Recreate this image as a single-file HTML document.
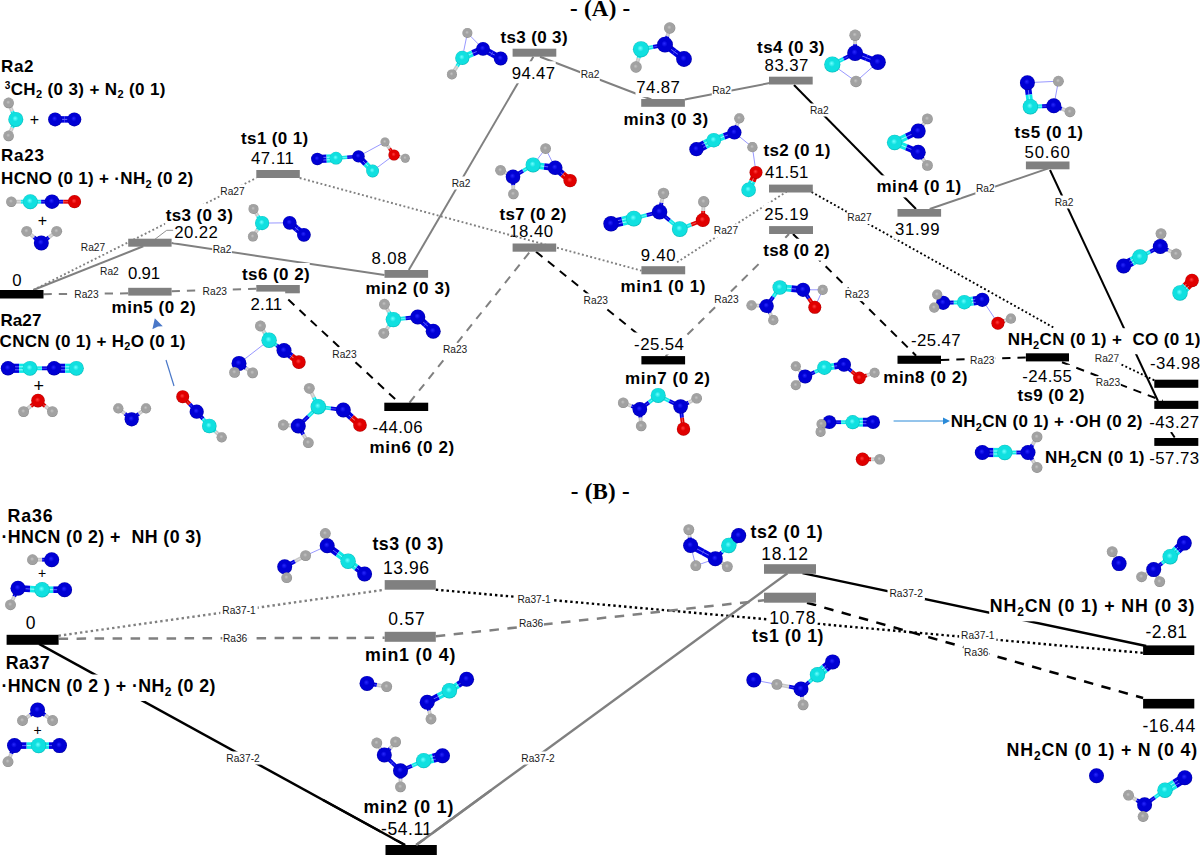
<!DOCTYPE html><html><head><meta charset="utf-8"><style>
html,body{margin:0;padding:0;background:#fff;}
svg{display:block;}
text{font-family:"Liberation Sans",sans-serif;}
.lb{font-size:10.2px;fill:#1a1a1a;}
</style></head><body>
<svg width="1200" height="855" viewBox="0 0 1200 855">
<defs>
<radialGradient id="gH" cx="50%" cy="50%" r="55%" fx="45%" fy="42%"><stop offset="0" stop-color="#c4c4c4"/><stop offset="0.35" stop-color="#a2a2a2"/><stop offset="0.78" stop-color="#a2a2a2"/><stop offset="1" stop-color="#707070"/></radialGradient>
<radialGradient id="gC" cx="50%" cy="50%" r="55%" fx="45%" fy="42%"><stop offset="0" stop-color="#70ffff"/><stop offset="0.35" stop-color="#10e0e0"/><stop offset="0.78" stop-color="#10e0e0"/><stop offset="1" stop-color="#00a0a0"/></radialGradient>
<radialGradient id="gN" cx="50%" cy="50%" r="55%" fx="45%" fy="42%"><stop offset="0" stop-color="#2828ff"/><stop offset="0.35" stop-color="#0000d4"/><stop offset="0.78" stop-color="#0000d4"/><stop offset="1" stop-color="#000088"/></radialGradient>
<radialGradient id="gO" cx="50%" cy="50%" r="55%" fx="45%" fy="42%"><stop offset="0" stop-color="#ff4040"/><stop offset="0.35" stop-color="#e00000"/><stop offset="0.78" stop-color="#e00000"/><stop offset="1" stop-color="#900000"/></radialGradient>
</defs>
<rect width="1200" height="855" fill="#fff"/>
<line x1="33.3" y1="290" x2="143.3" y2="246.3" stroke="#808080" stroke-width="2.0"/>
<line x1="171.5" y1="243" x2="384.5" y2="275" stroke="#808080" stroke-width="2.0"/>
<line x1="408.8" y1="270" x2="533.3" y2="56.7" stroke="#808080" stroke-width="2.0"/>
<line x1="540" y1="56.7" x2="651.3" y2="99.5" stroke="#808080" stroke-width="2.0"/>
<line x1="684.8" y1="99.5" x2="776.1" y2="81.8" stroke="#808080" stroke-width="2.0"/>
<line x1="929.7" y1="209" x2="1048.4" y2="168.4" stroke="#808080" stroke-width="2.0"/>
<line x1="794" y1="85" x2="916" y2="209" stroke="#000000" stroke-width="2.0"/>
<line x1="1050" y1="170" x2="1158" y2="401" stroke="#000000" stroke-width="2.0"/>
<line x1="33.3" y1="290" x2="256.3" y2="178" stroke="#808080" stroke-width="1.9" stroke-dasharray="1.9 2.4"/>
<line x1="677" y1="262.3" x2="786.7" y2="191.6" stroke="#808080" stroke-width="1.9" stroke-dasharray="1.9 2.4"/>
<line x1="811.5" y1="192" x2="1053.8" y2="327.7" stroke="#000000" stroke-width="1.9" stroke-dasharray="1.9 2.4"/>
<line x1="1090.5" y1="349.7" x2="1154.3" y2="380.3" stroke="#000000" stroke-width="1.9" stroke-dasharray="1.9 2.4"/>
<line x1="43.5" y1="294.2" x2="128.2" y2="293.3" stroke="#808080" stroke-width="2.0" stroke-dasharray="8.3 7"/>
<line x1="171.6" y1="291.3" x2="256.3" y2="288.8" stroke="#808080" stroke-width="2.0" stroke-dasharray="8.3 7"/>
<line x1="409.5" y1="402.7" x2="530" y2="251.7" stroke="#808080" stroke-width="2.0" stroke-dasharray="8.3 7"/>
<line x1="665.7" y1="356.1" x2="789" y2="234" stroke="#808080" stroke-width="2.0" stroke-dasharray="8.3 7"/>
<line x1="288.3" y1="299.6" x2="399" y2="402.7" stroke="#000000" stroke-width="2.0" stroke-dasharray="8.3 7"/>
<line x1="536" y1="251.7" x2="665" y2="356.1" stroke="#000000" stroke-width="2.0" stroke-dasharray="8.3 7"/>
<line x1="793" y1="234" x2="916.1" y2="355.7" stroke="#000000" stroke-width="2.0" stroke-dasharray="8.3 7"/>
<line x1="941" y1="359.9" x2="1025.9" y2="357.5" stroke="#000000" stroke-width="2.0" stroke-dasharray="8.3 7"/>
<line x1="1062" y1="362.3" x2="1162.7" y2="400.8" stroke="#000000" stroke-width="2.0" stroke-dasharray="8.3 7"/>
<line x1="58.6" y1="635.7" x2="384.7" y2="589.7" stroke="#808080" stroke-width="2.4" stroke-dasharray="2.4 3"/>
<line x1="58.6" y1="638.7" x2="384.7" y2="637.8" stroke="#808080" stroke-width="2.5" stroke-dasharray="9.5 8.5"/>
<line x1="435.8" y1="589.7" x2="1143.1" y2="652.9" stroke="#000000" stroke-width="2.4" stroke-dasharray="2.4 3"/>
<line x1="435.8" y1="636.3" x2="764" y2="600.3" stroke="#808080" stroke-width="2.5" stroke-dasharray="9.5 8.5"/>
<line x1="807" y1="602.7" x2="1143.1" y2="698" stroke="#000000" stroke-width="2.5" stroke-dasharray="9.5 8.5"/>
<line x1="39" y1="643.9" x2="405" y2="845" stroke="#000000" stroke-width="2.4"/>
<line x1="416.2" y1="845" x2="787.5" y2="573.2" stroke="#808080" stroke-width="2.4"/>
<line x1="802.5" y1="573.2" x2="1146.2" y2="646" stroke="#000000" stroke-width="2.4"/>
<line x1="1171" y1="432" x2="1174.7" y2="437.5" stroke="#000000" stroke-width="2.0"/>
<polyline points="150,243 166.7,230.3 173.3,230.3" fill="none" stroke="#909090" stroke-width="1"/>
<line x1="174" y1="386" x2="166" y2="360" stroke="#4a78c8" stroke-width="1.2"/>
<polygon points="154.8,318.2 162.8,326.2 158,326.6 152.4,329.2" fill="#4a78c8"/>
<line x1="893.6" y1="421" x2="944" y2="421" stroke="#2a8ad8" stroke-width="1"/>
<polygon points="950,421 943,417.5 943,424.5" fill="#2a8ad8"/>
<rect x="80.2" y="241" width="25.6" height="13" fill="#fff"/>
<text class="lb" x="93" y="251.2" text-anchor="middle">Ra27</text>
<rect x="99.6" y="264.8" width="19.7" height="13" fill="#fff"/>
<text class="lb" x="109.4" y="275" text-anchor="middle">Ra2</text>
<rect x="73.7" y="287.7" width="25.6" height="13" fill="#fff"/>
<text class="lb" x="86.5" y="297.9" text-anchor="middle">Ra23</text>
<rect x="219.7" y="184.3" width="25.6" height="13" fill="#fff"/>
<text class="lb" x="232.5" y="194.5" text-anchor="middle">Ra27</text>
<rect x="202" y="284.8" width="25.6" height="13" fill="#fff"/>
<text class="lb" x="214.8" y="295" text-anchor="middle">Ra23</text>
<rect x="212.2" y="243" width="19.7" height="13" fill="#fff"/>
<text class="lb" x="222" y="253.2" text-anchor="middle">Ra2</text>
<rect x="331.7" y="347.3" width="25.6" height="13" fill="#fff"/>
<text class="lb" x="344.5" y="357.5" text-anchor="middle">Ra23</text>
<rect x="451.1" y="176.5" width="19.7" height="13" fill="#fff"/>
<text class="lb" x="461" y="186.7" text-anchor="middle">Ra2</text>
<rect x="442.3" y="343.2" width="25.6" height="13" fill="#fff"/>
<text class="lb" x="455.1" y="353.4" text-anchor="middle">Ra23</text>
<rect x="580.1" y="68.2" width="19.7" height="13" fill="#fff"/>
<text class="lb" x="590" y="78.4" text-anchor="middle">Ra2</text>
<rect x="583" y="293.4" width="25.6" height="13" fill="#fff"/>
<text class="lb" x="595.8" y="303.6" text-anchor="middle">Ra23</text>
<rect x="711.8" y="84.1" width="19.7" height="13" fill="#fff"/>
<text class="lb" x="721.6" y="94.3" text-anchor="middle">Ra2</text>
<rect x="713.2" y="224.2" width="25.6" height="13" fill="#fff"/>
<text class="lb" x="726" y="234.4" text-anchor="middle">Ra27</text>
<rect x="713.7" y="292.5" width="25.6" height="13" fill="#fff"/>
<text class="lb" x="726.5" y="302.7" text-anchor="middle">Ra23</text>
<rect x="809.4" y="103.5" width="19.7" height="13" fill="#fff"/>
<text class="lb" x="819.3" y="113.7" text-anchor="middle">Ra2</text>
<rect x="846.7" y="211" width="25.6" height="13" fill="#fff"/>
<text class="lb" x="859.5" y="221.2" text-anchor="middle">Ra27</text>
<rect x="844.2" y="288.1" width="25.6" height="13" fill="#fff"/>
<text class="lb" x="857" y="298.3" text-anchor="middle">Ra23</text>
<rect x="975.4" y="181.5" width="19.7" height="13" fill="#fff"/>
<text class="lb" x="985.3" y="191.7" text-anchor="middle">Ra2</text>
<rect x="1054.2" y="195.5" width="19.7" height="13" fill="#fff"/>
<text class="lb" x="1064" y="205.7" text-anchor="middle">Ra2</text>
<rect x="969.5" y="353.4" width="25.6" height="13" fill="#fff"/>
<text class="lb" x="982.3" y="363.6" text-anchor="middle">Ra23</text>
<rect x="1094.2" y="352.2" width="25.6" height="13" fill="#fff"/>
<text class="lb" x="1107" y="362.4" text-anchor="middle">Ra27</text>
<rect x="1095.2" y="376.2" width="25.6" height="13" fill="#fff"/>
<text class="lb" x="1108" y="386.4" text-anchor="middle">Ra23</text>
<rect x="220.3" y="603.4" width="37.4" height="13" fill="#fff"/>
<text class="lb" x="239" y="613.6" text-anchor="middle">Ra37-1</text>
<rect x="222.3" y="632.2" width="25.6" height="13" fill="#fff"/>
<text class="lb" x="235.1" y="642.4" text-anchor="middle">Ra36</text>
<rect x="515.4" y="592.3" width="37.4" height="13" fill="#fff"/>
<text class="lb" x="534.1" y="602.5" text-anchor="middle">Ra37-1</text>
<rect x="518.3" y="617.2" width="25.6" height="13" fill="#fff"/>
<text class="lb" x="531.1" y="627.4" text-anchor="middle">Ra36</text>
<rect x="224.3" y="751.5" width="37.4" height="13" fill="#fff"/>
<text class="lb" x="243" y="761.7" text-anchor="middle">Ra37-2</text>
<rect x="519.3" y="751.5" width="37.4" height="13" fill="#fff"/>
<text class="lb" x="538" y="761.7" text-anchor="middle">Ra37-2</text>
<rect x="887.5" y="587.1" width="37.4" height="13" fill="#fff"/>
<text class="lb" x="906.2" y="597.3" text-anchor="middle">Ra37-2</text>
<rect x="959.1" y="629.2" width="37.4" height="13" fill="#fff"/>
<text class="lb" x="977.8" y="639.4" text-anchor="middle">Ra37-1</text>
<rect x="963.5" y="645.5" width="25.6" height="13" fill="#fff"/>
<text class="lb" x="976.3" y="655.7" text-anchor="middle">Ra36</text>
<rect x="0.5" y="54.5" width="33" height="22" fill="#fff"/>
<rect x="4.2" y="77.7" width="161.3" height="26" fill="#fff"/>
<rect x="0.5" y="143.8" width="43.4" height="22" fill="#fff"/>
<rect x="0.5" y="167" width="192.7" height="26" fill="#fff"/>
<rect x="240.5" y="127.2" width="67.7" height="22" fill="#fff"/>
<rect x="165.2" y="203.8" width="67.6" height="22" fill="#fff"/>
<rect x="499.8" y="26.2" width="67.8" height="22" fill="#fff"/>
<rect x="112.2" y="296.2" width="83.5" height="22" fill="#fff"/>
<rect x="-0.2" y="309.1" width="41.6" height="22" fill="#fff"/>
<rect x="-1" y="329.6" width="186.5" height="26" fill="#fff"/>
<rect x="241.4" y="263" width="68.3" height="22" fill="#fff"/>
<rect x="366.1" y="276.9" width="84.1" height="22" fill="#fff"/>
<rect x="370.2" y="435.7" width="84" height="22" fill="#fff"/>
<rect x="498.9" y="202.6" width="67.4" height="22" fill="#fff"/>
<rect x="624.1" y="107.8" width="84" height="22" fill="#fff"/>
<rect x="621.3" y="275.4" width="84.2" height="22" fill="#fff"/>
<rect x="625.8" y="367" width="84.2" height="22" fill="#fff"/>
<rect x="756.5" y="35.7" width="68" height="22" fill="#fff"/>
<rect x="763" y="138.6" width="67.3" height="22" fill="#fff"/>
<rect x="762.6" y="238.7" width="67.1" height="22" fill="#fff"/>
<rect x="877.1" y="175.4" width="84.1" height="22" fill="#fff"/>
<rect x="884" y="366.3" width="83.3" height="22" fill="#fff"/>
<rect x="1013.9" y="120.7" width="69.1" height="22" fill="#fff"/>
<rect x="1016.9" y="384.4" width="67.6" height="22" fill="#fff"/>
<rect x="1007.2" y="328.2" width="193.1" height="26" fill="#fff"/>
<rect x="950.1" y="410" width="192.4" height="26" fill="#fff"/>
<rect x="1044.5" y="446" width="100" height="26" fill="#fff"/>
<rect x="11.5" y="268.8" width="11.3" height="22" fill="#fff"/>
<rect x="127.2" y="261.7" width="33.5" height="22" fill="#fff"/>
<rect x="173.5" y="220.5" width="45" height="22" fill="#fff"/>
<rect x="250.2" y="146.3" width="44.3" height="22" fill="#fff"/>
<rect x="249.8" y="292.5" width="33" height="22" fill="#fff"/>
<rect x="370.8" y="246.5" width="36.4" height="22" fill="#fff"/>
<rect x="371.8" y="415.3" width="51.4" height="22" fill="#fff"/>
<rect x="511" y="61.3" width="44.7" height="22" fill="#fff"/>
<rect x="508.5" y="219.7" width="45.2" height="22" fill="#fff"/>
<rect x="635.5" y="75.1" width="44.9" height="22" fill="#fff"/>
<rect x="640" y="242.9" width="36.3" height="22" fill="#fff"/>
<rect x="633.3" y="332.5" width="51.2" height="22" fill="#fff"/>
<rect x="763.8" y="53" width="45.2" height="22" fill="#fff"/>
<rect x="764.3" y="160.5" width="44.7" height="22" fill="#fff"/>
<rect x="763.5" y="202.6" width="45.7" height="22" fill="#fff"/>
<rect x="894.2" y="217" width="46" height="22" fill="#fff"/>
<rect x="910.1" y="327.9" width="51.1" height="22" fill="#fff"/>
<rect x="1023.8" y="140" width="46.6" height="22" fill="#fff"/>
<rect x="1021.4" y="364.8" width="51.1" height="22" fill="#fff"/>
<rect x="1149.2" y="351.3" width="51.5" height="22" fill="#fff"/>
<rect x="1148.5" y="410" width="51.2" height="22" fill="#fff"/>
<rect x="1148.5" y="446" width="51.2" height="22" fill="#fff"/>
<rect x="6.9" y="504.6" width="45.7" height="22.5" fill="#fff"/>
<rect x="0.9" y="525" width="200.6" height="22.5" fill="#fff"/>
<rect x="5.1" y="651.3" width="44.5" height="22.5" fill="#fff"/>
<rect x="0.9" y="674.5" width="214.6" height="26.5" fill="#fff"/>
<rect x="371.8" y="532.5" width="71.5" height="22.5" fill="#fff"/>
<rect x="365.8" y="643.8" width="89.5" height="22.5" fill="#fff"/>
<rect x="364.1" y="795.6" width="89.2" height="22.5" fill="#fff"/>
<rect x="749.9" y="520.2" width="72.7" height="22.5" fill="#fff"/>
<rect x="751.4" y="624.9" width="72.1" height="22.5" fill="#fff"/>
<rect x="989.2" y="594.8" width="205.1" height="26.5" fill="#fff"/>
<rect x="1006" y="738.9" width="191.1" height="26.5" fill="#fff"/>
<rect x="25" y="611.3" width="12" height="22.5" fill="#fff"/>
<rect x="382.3" y="555.7" width="47.2" height="22.5" fill="#fff"/>
<rect x="387.4" y="606.8" width="37.9" height="22.5" fill="#fff"/>
<rect x="380.2" y="817" width="52.5" height="22.5" fill="#fff"/>
<rect x="760.4" y="542.2" width="48.1" height="22.5" fill="#fff"/>
<rect x="768.5" y="606.2" width="47.5" height="22.5" fill="#fff"/>
<rect x="1144.7" y="619.5" width="42.9" height="22.5" fill="#fff"/>
<rect x="1141.6" y="713.5" width="54.2" height="22.5" fill="#fff"/>
<text x="1.1" y="71.5" font-size="17" font-weight="bold" textLength="32.4" lengthAdjust="spacing">Ra2</text>
<text x="4.8" y="94.7" font-size="17" font-weight="bold" textLength="160.7" lengthAdjust="spacing"><tspan font-size="10" dy="-6">3</tspan><tspan dy="6">CH</tspan><tspan font-size="11" dy="3.5">2</tspan><tspan dy="-3.5"> (0 3) + N</tspan><tspan font-size="11" dy="3.5">2</tspan><tspan dy="-3.5"> (0 1)</tspan></text>
<text x="1.1" y="160.8" font-size="17" font-weight="bold" textLength="42.8" lengthAdjust="spacing">Ra23</text>
<text x="1.1" y="184" font-size="17" font-weight="bold" textLength="192.1" lengthAdjust="spacing">HCNO (0 1) + ·NH<tspan font-size="11" dy="3.5">2</tspan><tspan dy="-3.5"> (0 2)</tspan></text>
<text x="241.1" y="144.2" font-size="17" font-weight="bold" textLength="67.1" lengthAdjust="spacing">ts1 (0 1)</text>
<text x="165.8" y="220.8" font-size="17" font-weight="bold" textLength="67" lengthAdjust="spacing">ts3 (0 3)</text>
<text x="500.4" y="43.2" font-size="17" font-weight="bold" textLength="67.2" lengthAdjust="spacing">ts3 (0 3)</text>
<text x="111.5" y="313.2" font-size="17" font-weight="bold" textLength="84.2" lengthAdjust="spacing">min5 (0 2)</text>
<text x="0.4" y="326.1" font-size="17" font-weight="bold" textLength="41" lengthAdjust="spacing">Ra27</text>
<text x="-0.4" y="346.6" font-size="17" font-weight="bold" textLength="185.9" lengthAdjust="spacing">CNCN (0 1) + H<tspan font-size="11" dy="3.5">2</tspan><tspan dy="-3.5">O (0 1)</tspan></text>
<text x="242" y="280" font-size="17" font-weight="bold" textLength="67.7" lengthAdjust="spacing">ts6 (0 2)</text>
<text x="365.4" y="293.9" font-size="17" font-weight="bold" textLength="84.8" lengthAdjust="spacing">min2 (0 3)</text>
<text x="369.5" y="452.7" font-size="17" font-weight="bold" textLength="84.7" lengthAdjust="spacing">min6 (0 2)</text>
<text x="499.5" y="219.6" font-size="17" font-weight="bold" textLength="66.8" lengthAdjust="spacing">ts7 (0 2)</text>
<text x="623.4" y="124.8" font-size="17" font-weight="bold" textLength="84.7" lengthAdjust="spacing">min3 (0 3)</text>
<text x="620.6" y="292.4" font-size="17" font-weight="bold" textLength="84.9" lengthAdjust="spacing">min1 (0 1)</text>
<text x="625.1" y="384" font-size="17" font-weight="bold" textLength="84.9" lengthAdjust="spacing">min7 (0 2)</text>
<text x="757.1" y="52.7" font-size="17" font-weight="bold" textLength="67.4" lengthAdjust="spacing">ts4 (0 3)</text>
<text x="763.6" y="155.6" font-size="17" font-weight="bold" textLength="66.7" lengthAdjust="spacing">ts2 (0 1)</text>
<text x="763.2" y="255.7" font-size="17" font-weight="bold" textLength="66.5" lengthAdjust="spacing">ts8 (0 2)</text>
<text x="876.4" y="192.4" font-size="17" font-weight="bold" textLength="84.8" lengthAdjust="spacing">min4 (0 1)</text>
<text x="883.3" y="383.3" font-size="17" font-weight="bold" textLength="84" lengthAdjust="spacing">min8 (0 2)</text>
<text x="1014.5" y="137.7" font-size="17" font-weight="bold" textLength="68.5" lengthAdjust="spacing">ts5 (0 1)</text>
<text x="1017.5" y="401.4" font-size="17" font-weight="bold" textLength="67" lengthAdjust="spacing">ts9 (0 2)</text>
<text x="1007.8" y="345.2" font-size="17" font-weight="bold" textLength="192.5" lengthAdjust="spacing">NH<tspan font-size="11" dy="3.5">2</tspan><tspan dy="-3.5">CN (0 1) +&#160; CO (0 1)</tspan></text>
<text x="950.7" y="427" font-size="17" font-weight="bold" textLength="191.8" lengthAdjust="spacing">NH<tspan font-size="11" dy="3.5">2</tspan><tspan dy="-3.5">CN (0 1) + ·OH (0 2)</tspan></text>
<text x="1045.1" y="463" font-size="17" font-weight="bold" textLength="99.4" lengthAdjust="spacing">NH<tspan font-size="11" dy="3.5">2</tspan><tspan dy="-3.5">CN (0 1)</tspan></text>
<text x="12.3" y="286.4" font-size="16.8" font-weight="normal" textLength="9.9" lengthAdjust="spacing">0</text>
<text x="128" y="279.3" font-size="16.8" font-weight="normal" textLength="32.1" lengthAdjust="spacing">0.91</text>
<text x="174.3" y="238.1" font-size="16.8" font-weight="normal" textLength="43.6" lengthAdjust="spacing">20.22</text>
<text x="251" y="163.9" font-size="16.8" font-weight="normal" textLength="42.9" lengthAdjust="spacing">47.11</text>
<text x="250.6" y="310.1" font-size="16.8" font-weight="normal" textLength="31.6" lengthAdjust="spacing">2.11</text>
<text x="371.6" y="264.1" font-size="16.8" font-weight="normal" textLength="35" lengthAdjust="spacing">8.08</text>
<text x="372.6" y="432.9" font-size="16.8" font-weight="normal" textLength="50" lengthAdjust="spacing">-44.06</text>
<text x="511.8" y="78.9" font-size="16.8" font-weight="normal" textLength="43.3" lengthAdjust="spacing">94.47</text>
<text x="509.3" y="237.3" font-size="16.8" font-weight="normal" textLength="43.8" lengthAdjust="spacing">18.40</text>
<text x="636.3" y="92.7" font-size="16.8" font-weight="normal" textLength="43.5" lengthAdjust="spacing">74.87</text>
<text x="640.8" y="260.5" font-size="16.8" font-weight="normal" textLength="34.9" lengthAdjust="spacing">9.40</text>
<text x="634.1" y="350.1" font-size="16.8" font-weight="normal" textLength="49.8" lengthAdjust="spacing">-25.54</text>
<text x="764.6" y="70.6" font-size="16.8" font-weight="normal" textLength="43.8" lengthAdjust="spacing">83.37</text>
<text x="765.1" y="178.1" font-size="16.8" font-weight="normal" textLength="43.3" lengthAdjust="spacing">41.51</text>
<text x="764.3" y="220.2" font-size="16.8" font-weight="normal" textLength="44.3" lengthAdjust="spacing">25.19</text>
<text x="895" y="234.6" font-size="16.8" font-weight="normal" textLength="44.6" lengthAdjust="spacing">31.99</text>
<text x="910.9" y="345.5" font-size="16.8" font-weight="normal" textLength="49.7" lengthAdjust="spacing">-25.47</text>
<text x="1024.6" y="157.6" font-size="16.8" font-weight="normal" textLength="45.2" lengthAdjust="spacing">50.60</text>
<text x="1022.2" y="382.4" font-size="16.8" font-weight="normal" textLength="49.7" lengthAdjust="spacing">-24.55</text>
<text x="1150" y="368.9" font-size="16.8" font-weight="normal" textLength="50.1" lengthAdjust="spacing">-34.98</text>
<text x="1149.3" y="427.6" font-size="16.8" font-weight="normal" textLength="49.8" lengthAdjust="spacing">-43.27</text>
<text x="1149.3" y="463.6" font-size="16.8" font-weight="normal" textLength="49.8" lengthAdjust="spacing">-57.73</text>
<text x="7.5" y="522.1" font-size="17.8" font-weight="bold" textLength="45.1" lengthAdjust="spacing">Ra36</text>
<text x="1.5" y="542.5" font-size="17.8" font-weight="bold" textLength="200" lengthAdjust="spacing">·HNCN (0 2) +&#160; NH (0 3)</text>
<text x="5.7" y="668.8" font-size="17.8" font-weight="bold" textLength="43.9" lengthAdjust="spacing">Ra37</text>
<text x="1.5" y="692" font-size="17.8" font-weight="bold" textLength="214" lengthAdjust="spacing">·HNCN (0 2 ) + ·NH<tspan font-size="12" dy="3.5">2</tspan><tspan dy="-3.5"> (0 2)</tspan></text>
<text x="372.4" y="550" font-size="17.8" font-weight="bold" textLength="70.9" lengthAdjust="spacing">ts3 (0 3)</text>
<text x="365.1" y="661.3" font-size="17.8" font-weight="bold" textLength="90.2" lengthAdjust="spacing">min1 (0 4)</text>
<text x="363.4" y="813.1" font-size="17.8" font-weight="bold" textLength="89.9" lengthAdjust="spacing">min2 (0 1)</text>
<text x="750.5" y="537.7" font-size="17.8" font-weight="bold" textLength="72.1" lengthAdjust="spacing">ts2 (0 1)</text>
<text x="752" y="642.4" font-size="17.8" font-weight="bold" textLength="71.5" lengthAdjust="spacing">ts1 (0 1)</text>
<text x="989.8" y="612.3" font-size="17.8" font-weight="bold" textLength="204.5" lengthAdjust="spacing">NH<tspan font-size="12" dy="3.5">2</tspan><tspan dy="-3.5">CN (0 1) + NH (0 3)</tspan></text>
<text x="1006.6" y="756.4" font-size="17.8" font-weight="bold" textLength="190.5" lengthAdjust="spacing">NH<tspan font-size="12" dy="3.5">2</tspan><tspan dy="-3.5">CN (0 1) + N (0 4)</tspan></text>
<text x="25.8" y="629.4" font-size="17.5" font-weight="normal" textLength="10.6" lengthAdjust="spacing">0</text>
<text x="383.1" y="573.8" font-size="17.5" font-weight="normal" textLength="45.8" lengthAdjust="spacing">13.96</text>
<text x="388.2" y="624.9" font-size="17.5" font-weight="normal" textLength="36.5" lengthAdjust="spacing">0.57</text>
<text x="381" y="835.1" font-size="17.5" font-weight="normal" textLength="51.1" lengthAdjust="spacing">-54.11</text>
<text x="761.2" y="560.3" font-size="17.5" font-weight="normal" textLength="46.7" lengthAdjust="spacing">18.12</text>
<text x="769.3" y="624.3" font-size="17.5" font-weight="normal" textLength="46.1" lengthAdjust="spacing">10.78</text>
<text x="1145.5" y="637.6" font-size="17.5" font-weight="normal" textLength="41.5" lengthAdjust="spacing">-2.81</text>
<text x="1142.4" y="731.6" font-size="17.5" font-weight="normal" textLength="52.8" lengthAdjust="spacing">-16.44</text>
<text x="570" y="15.6" font-weight="bold" font-size="23" textLength="60.2" lengthAdjust="spacing" style="font-family:'Liberation Serif',serif">- (A) -</text>
<text x="570.8" y="499.2" font-weight="bold" font-size="23" textLength="58.8" lengthAdjust="spacing" style="font-family:'Liberation Serif',serif">- (B) -</text>
<rect x="0" y="290" width="43.5" height="8.5" fill="#000000"/>
<rect x="128.2" y="238.7" width="43.4" height="8" fill="#808080"/>
<rect x="128.2" y="287.8" width="43.4" height="7.8" fill="#808080"/>
<rect x="256.3" y="170" width="43.5" height="8" fill="#808080"/>
<rect x="256.3" y="285" width="43.5" height="6.6" fill="#808080"/>
<rect x="285.2" y="291" width="14.6" height="2.3" fill="#808080"/>
<rect x="384.5" y="270" width="43.6" height="7.8" fill="#808080"/>
<rect x="384.3" y="402.7" width="43.9" height="8.3" fill="#000000"/>
<rect x="512.6" y="48.7" width="43.7" height="8" fill="#808080"/>
<rect x="512.6" y="243.5" width="43.6" height="8.2" fill="#808080"/>
<rect x="641.2" y="99" width="43.7" height="7.8" fill="#808080"/>
<rect x="641.4" y="266.2" width="43.8" height="8.1" fill="#808080"/>
<rect x="641.4" y="356.1" width="43.7" height="8.3" fill="#000000"/>
<rect x="769" y="76.7" width="43.7" height="7.8" fill="#808080"/>
<rect x="769" y="184.6" width="43.8" height="7.9" fill="#808080"/>
<rect x="769.1" y="226.1" width="43.9" height="7.9" fill="#808080"/>
<rect x="897.5" y="209" width="43.6" height="7.7" fill="#808080"/>
<rect x="897.5" y="355.7" width="43.5" height="8.1" fill="#000000"/>
<rect x="1025.9" y="161.5" width="43.6" height="7.8" fill="#808080"/>
<rect x="1025.9" y="353.3" width="43.1" height="8.1" fill="#000000"/>
<rect x="1154.3" y="379.7" width="44" height="8.1" fill="#000000"/>
<rect x="1154.3" y="400.8" width="44" height="8.1" fill="#000000"/>
<rect x="1154.3" y="438" width="44" height="7.9" fill="#000000"/>
<rect x="6.6" y="634.8" width="52" height="10" fill="#000000"/>
<rect x="384.7" y="580.1" width="51.1" height="9.6" fill="#808080"/>
<rect x="384.7" y="631.8" width="51.1" height="10" fill="#808080"/>
<rect x="385.5" y="845" width="51.3" height="11" fill="#000000"/>
<rect x="764" y="564.2" width="52" height="9.6" fill="#808080"/>
<rect x="764" y="592.7" width="52" height="10" fill="#808080"/>
<rect x="1143.1" y="645.4" width="51.2" height="9.6" fill="#000000"/>
<rect x="1143.1" y="698.9" width="51.2" height="9.6" fill="#000000"/>
<line x1="299.7" y1="178" x2="641.5" y2="270.7" stroke="#808080" stroke-width="1.9" stroke-dasharray="1.9 2.4"/>
<line x1="323.1" y1="800" x2="405" y2="845" stroke="#000" stroke-width="2.4"/>
<line x1="416.2" y1="845" x2="491.3" y2="790" stroke="#808080" stroke-width="2.4"/>
<text x="34.4" y="125.2" font-size="16" text-anchor="middle">+</text>
<text x="42.5" y="225.5" font-size="16" text-anchor="middle">+</text>
<text x="38.8" y="391.7" font-size="18" text-anchor="middle">+</text>
<text x="42.1" y="578.2" font-size="14" text-anchor="middle">+</text>
<text x="37.6" y="734.5" font-size="14" text-anchor="middle">+</text>
<line x1="8.6" y1="102.9" x2="12.2" y2="111.2" stroke="#c8c8c8" stroke-width="3.9"/>
<line x1="12.2" y1="111.2" x2="15.8" y2="119.4" stroke="#10e8e8" stroke-width="3.9"/>
<line x1="8.6" y1="102.9" x2="12.2" y2="111.2" stroke="#f0f0f0" stroke-width="0.8" stroke-opacity="0.7"/>
<line x1="12.2" y1="111.2" x2="15.8" y2="119.4" stroke="#b0ffff" stroke-width="0.8" stroke-opacity="0.7"/>
<line x1="15.8" y1="119.4" x2="12.2" y2="127.7" stroke="#10e8e8" stroke-width="3.9"/>
<line x1="12.2" y1="127.7" x2="8.6" y2="135.9" stroke="#c8c8c8" stroke-width="3.9"/>
<line x1="15.8" y1="119.4" x2="12.2" y2="127.7" stroke="#b0ffff" stroke-width="0.8" stroke-opacity="0.7"/>
<line x1="12.2" y1="127.7" x2="8.6" y2="135.9" stroke="#f0f0f0" stroke-width="0.8" stroke-opacity="0.7"/>
<circle cx="8.6" cy="102.9" r="5.3" fill="url(#gH)"/>
<circle cx="15.8" cy="119.4" r="7.5" fill="url(#gC)"/>
<circle cx="8.6" cy="135.9" r="5.3" fill="url(#gH)"/>
<line x1="55.1" y1="119.4" x2="64.7" y2="119.4" stroke="#0000e0" stroke-width="6.5"/>
<line x1="64.7" y1="119.4" x2="74.3" y2="119.4" stroke="#0000e0" stroke-width="6.5"/>
<line x1="55.1" y1="119.4" x2="64.7" y2="119.4" stroke="#7070ff" stroke-width="0.9"/>
<line x1="64.7" y1="119.4" x2="74.3" y2="119.4" stroke="#7070ff" stroke-width="0.9"/>
<circle cx="55.1" cy="119.4" r="7" fill="url(#gN)"/>
<circle cx="74.3" cy="119.4" r="7" fill="url(#gN)"/>
<line x1="11.3" y1="201.7" x2="20.8" y2="201.7" stroke="#c8c8c8" stroke-width="3.9"/>
<line x1="20.8" y1="201.7" x2="30.3" y2="201.7" stroke="#10e8e8" stroke-width="3.9"/>
<line x1="11.3" y1="201.7" x2="20.8" y2="201.7" stroke="#f0f0f0" stroke-width="0.8" stroke-opacity="0.7"/>
<line x1="20.8" y1="201.7" x2="30.3" y2="201.7" stroke="#b0ffff" stroke-width="0.8" stroke-opacity="0.7"/>
<line x1="30.3" y1="201.7" x2="41.1" y2="201.7" stroke="#10e8e8" stroke-width="3.9"/>
<line x1="41.1" y1="201.7" x2="52" y2="201.7" stroke="#0000e0" stroke-width="3.9"/>
<line x1="30.3" y1="201.7" x2="41.1" y2="201.7" stroke="#b0ffff" stroke-width="0.8" stroke-opacity="0.7"/>
<line x1="41.1" y1="201.7" x2="52" y2="201.7" stroke="#7070ff" stroke-width="0.8" stroke-opacity="0.7"/>
<line x1="52" y1="201.7" x2="63.2" y2="201.7" stroke="#0000e0" stroke-width="3.9"/>
<line x1="63.2" y1="201.7" x2="74.5" y2="201.7" stroke="#e00000" stroke-width="3.9"/>
<line x1="52" y1="201.7" x2="63.2" y2="201.7" stroke="#7070ff" stroke-width="0.8" stroke-opacity="0.7"/>
<line x1="63.2" y1="201.7" x2="74.5" y2="201.7" stroke="#ff9090" stroke-width="0.8" stroke-opacity="0.7"/>
<circle cx="11.3" cy="201.7" r="5.2" fill="url(#gH)"/>
<circle cx="30.3" cy="201.7" r="7.5" fill="url(#gC)"/>
<circle cx="52" cy="201.7" r="7.3" fill="url(#gN)"/>
<circle cx="74.5" cy="201.7" r="6.6" fill="url(#gO)"/>
<line x1="26.7" y1="231.3" x2="34" y2="237.2" stroke="#c8c8c8" stroke-width="3.9"/>
<line x1="34" y1="237.2" x2="41.3" y2="243" stroke="#0000e0" stroke-width="3.9"/>
<line x1="26.7" y1="231.3" x2="34" y2="237.2" stroke="#f0f0f0" stroke-width="0.8" stroke-opacity="0.7"/>
<line x1="34" y1="237.2" x2="41.3" y2="243" stroke="#7070ff" stroke-width="0.8" stroke-opacity="0.7"/>
<line x1="41.3" y1="243" x2="49" y2="237.2" stroke="#0000e0" stroke-width="3.9"/>
<line x1="49" y1="237.2" x2="56.7" y2="231.3" stroke="#c8c8c8" stroke-width="3.9"/>
<line x1="41.3" y1="243" x2="49" y2="237.2" stroke="#7070ff" stroke-width="0.8" stroke-opacity="0.7"/>
<line x1="49" y1="237.2" x2="56.7" y2="231.3" stroke="#f0f0f0" stroke-width="0.8" stroke-opacity="0.7"/>
<circle cx="26.7" cy="231.3" r="5.4" fill="url(#gH)"/>
<circle cx="41.3" cy="243" r="7.5" fill="url(#gN)"/>
<circle cx="56.7" cy="231.3" r="5.4" fill="url(#gH)"/>
<line x1="8" y1="368.3" x2="19" y2="368.3" stroke="#0000e0" stroke-width="9.2"/>
<line x1="19" y1="368.3" x2="30" y2="368.3" stroke="#10e8e8" stroke-width="9.2"/>
<line x1="8" y1="366.8" x2="19" y2="366.8" stroke="#7070ff" stroke-width="0.9"/>
<line x1="19" y1="366.8" x2="30" y2="366.8" stroke="#b0ffff" stroke-width="0.9"/>
<line x1="8" y1="369.8" x2="19" y2="369.8" stroke="#7070ff" stroke-width="0.9"/>
<line x1="19" y1="369.8" x2="30" y2="369.8" stroke="#b0ffff" stroke-width="0.9"/>
<line x1="30" y1="368.3" x2="42" y2="368.3" stroke="#10e8e8" stroke-width="3.9"/>
<line x1="42" y1="368.3" x2="54.1" y2="368.3" stroke="#0000e0" stroke-width="3.9"/>
<line x1="30" y1="368.3" x2="42" y2="368.3" stroke="#b0ffff" stroke-width="0.8" stroke-opacity="0.7"/>
<line x1="42" y1="368.3" x2="54.1" y2="368.3" stroke="#7070ff" stroke-width="0.8" stroke-opacity="0.7"/>
<line x1="54.1" y1="368.3" x2="65.2" y2="368.3" stroke="#0000e0" stroke-width="9.2"/>
<line x1="65.2" y1="368.3" x2="76.4" y2="368.3" stroke="#10e8e8" stroke-width="9.2"/>
<line x1="54.1" y1="366.8" x2="65.2" y2="366.8" stroke="#7070ff" stroke-width="0.9"/>
<line x1="65.2" y1="366.8" x2="76.4" y2="366.8" stroke="#b0ffff" stroke-width="0.9"/>
<line x1="54.1" y1="369.8" x2="65.2" y2="369.8" stroke="#7070ff" stroke-width="0.9"/>
<line x1="65.2" y1="369.8" x2="76.4" y2="369.8" stroke="#b0ffff" stroke-width="0.9"/>
<circle cx="8" cy="368.3" r="7.2" fill="url(#gN)"/>
<circle cx="30" cy="368.3" r="7.4" fill="url(#gC)"/>
<circle cx="54.1" cy="368.3" r="7.2" fill="url(#gN)"/>
<circle cx="76.4" cy="368.3" r="7.4" fill="url(#gC)"/>
<line x1="38" y1="400.6" x2="30.8" y2="406.1" stroke="#e00000" stroke-width="3.9"/>
<line x1="30.8" y1="406.1" x2="23.6" y2="411.6" stroke="#c8c8c8" stroke-width="3.9"/>
<line x1="38" y1="400.6" x2="30.8" y2="406.1" stroke="#ff9090" stroke-width="0.8" stroke-opacity="0.7"/>
<line x1="30.8" y1="406.1" x2="23.6" y2="411.6" stroke="#f0f0f0" stroke-width="0.8" stroke-opacity="0.7"/>
<line x1="38" y1="400.6" x2="45.2" y2="406.1" stroke="#e00000" stroke-width="3.9"/>
<line x1="45.2" y1="406.1" x2="52.4" y2="411.6" stroke="#c8c8c8" stroke-width="3.9"/>
<line x1="38" y1="400.6" x2="45.2" y2="406.1" stroke="#ff9090" stroke-width="0.8" stroke-opacity="0.7"/>
<line x1="45.2" y1="406.1" x2="52.4" y2="411.6" stroke="#f0f0f0" stroke-width="0.8" stroke-opacity="0.7"/>
<circle cx="38" cy="400.6" r="6.8" fill="url(#gO)"/>
<circle cx="23.6" cy="411.6" r="5.4" fill="url(#gH)"/>
<circle cx="52.4" cy="411.6" r="5.4" fill="url(#gH)"/>
<line x1="118.3" y1="408.3" x2="125" y2="413.8" stroke="#c8c8c8" stroke-width="3.9"/>
<line x1="125" y1="413.8" x2="131.7" y2="419.3" stroke="#0000e0" stroke-width="3.9"/>
<line x1="118.3" y1="408.3" x2="125" y2="413.8" stroke="#f0f0f0" stroke-width="0.8" stroke-opacity="0.7"/>
<line x1="125" y1="413.8" x2="131.7" y2="419.3" stroke="#7070ff" stroke-width="0.8" stroke-opacity="0.7"/>
<line x1="131.7" y1="419.3" x2="138.8" y2="413.8" stroke="#0000e0" stroke-width="3.9"/>
<line x1="138.8" y1="413.8" x2="146" y2="408.3" stroke="#c8c8c8" stroke-width="3.9"/>
<line x1="131.7" y1="419.3" x2="138.8" y2="413.8" stroke="#7070ff" stroke-width="0.8" stroke-opacity="0.7"/>
<line x1="138.8" y1="413.8" x2="146" y2="408.3" stroke="#f0f0f0" stroke-width="0.8" stroke-opacity="0.7"/>
<circle cx="118.3" cy="408.3" r="5.1" fill="url(#gH)"/>
<circle cx="131.7" cy="419.3" r="7.1" fill="url(#gN)"/>
<circle cx="146" cy="408.3" r="5.1" fill="url(#gH)"/>
<line x1="182.7" y1="396.7" x2="189.7" y2="404.2" stroke="#e00000" stroke-width="3.9"/>
<line x1="189.7" y1="404.2" x2="196.7" y2="411.7" stroke="#0000e0" stroke-width="3.9"/>
<line x1="182.7" y1="396.7" x2="189.7" y2="404.2" stroke="#ff9090" stroke-width="0.8" stroke-opacity="0.7"/>
<line x1="189.7" y1="404.2" x2="196.7" y2="411.7" stroke="#7070ff" stroke-width="0.8" stroke-opacity="0.7"/>
<line x1="196.7" y1="411.7" x2="203" y2="418.9" stroke="#0000e0" stroke-width="3.9"/>
<line x1="203" y1="418.9" x2="209.3" y2="426" stroke="#10e8e8" stroke-width="3.9"/>
<line x1="196.7" y1="411.7" x2="203" y2="418.9" stroke="#7070ff" stroke-width="0.8" stroke-opacity="0.7"/>
<line x1="203" y1="418.9" x2="209.3" y2="426" stroke="#b0ffff" stroke-width="0.8" stroke-opacity="0.7"/>
<line x1="209.3" y1="426" x2="215.5" y2="431.6" stroke="#10e8e8" stroke-width="3.9"/>
<line x1="215.5" y1="431.6" x2="221.7" y2="437.3" stroke="#c8c8c8" stroke-width="3.9"/>
<line x1="209.3" y1="426" x2="215.5" y2="431.6" stroke="#b0ffff" stroke-width="0.8" stroke-opacity="0.7"/>
<line x1="215.5" y1="431.6" x2="221.7" y2="437.3" stroke="#f0f0f0" stroke-width="0.8" stroke-opacity="0.7"/>
<circle cx="182.7" cy="396.7" r="6.5" fill="url(#gO)"/>
<circle cx="196.7" cy="411.7" r="7.1" fill="url(#gN)"/>
<circle cx="209.3" cy="426" r="7.3" fill="url(#gC)"/>
<circle cx="221.7" cy="437.3" r="5.1" fill="url(#gH)"/>
<line x1="262.1" y1="223.1" x2="289.7" y2="222.8" stroke="#8c8cff" stroke-width="0.9"/>
<line x1="253.5" y1="208.9" x2="257.8" y2="216" stroke="#c8c8c8" stroke-width="3.8"/>
<line x1="257.8" y1="216" x2="262.1" y2="223.1" stroke="#10e8e8" stroke-width="3.8"/>
<line x1="253.5" y1="208.9" x2="257.8" y2="216" stroke="#f0f0f0" stroke-width="0.8" stroke-opacity="0.7"/>
<line x1="257.8" y1="216" x2="262.1" y2="223.1" stroke="#b0ffff" stroke-width="0.8" stroke-opacity="0.7"/>
<line x1="262.1" y1="223.1" x2="257.5" y2="229.8" stroke="#10e8e8" stroke-width="3.8"/>
<line x1="257.5" y1="229.8" x2="252.9" y2="236.6" stroke="#c8c8c8" stroke-width="3.8"/>
<line x1="262.1" y1="223.1" x2="257.5" y2="229.8" stroke="#b0ffff" stroke-width="0.8" stroke-opacity="0.7"/>
<line x1="257.5" y1="229.8" x2="252.9" y2="236.6" stroke="#f0f0f0" stroke-width="0.8" stroke-opacity="0.7"/>
<line x1="289.7" y1="222.8" x2="296.8" y2="228.8" stroke="#0000e0" stroke-width="6.4"/>
<line x1="296.8" y1="228.8" x2="303.9" y2="234.8" stroke="#0000e0" stroke-width="6.4"/>
<line x1="289.7" y1="222.8" x2="296.8" y2="228.8" stroke="#7070ff" stroke-width="0.9"/>
<line x1="296.8" y1="228.8" x2="303.9" y2="234.8" stroke="#7070ff" stroke-width="0.9"/>
<circle cx="253.5" cy="208.9" r="5" fill="url(#gH)"/>
<circle cx="262.1" cy="223.1" r="7.1" fill="url(#gC)"/>
<circle cx="252.9" cy="236.6" r="5" fill="url(#gH)"/>
<circle cx="289.7" cy="222.8" r="6.9" fill="url(#gN)"/>
<circle cx="303.9" cy="234.8" r="6.9" fill="url(#gN)"/>
<line x1="358.5" y1="156.4" x2="385" y2="142" stroke="#8c8cff" stroke-width="0.9"/>
<line x1="372.6" y1="171" x2="394" y2="155" stroke="#8c8cff" stroke-width="0.9"/>
<line x1="317.3" y1="159" x2="326.6" y2="158.6" stroke="#0000e0" stroke-width="8.1"/>
<line x1="326.6" y1="158.6" x2="336" y2="158.2" stroke="#10e8e8" stroke-width="8.1"/>
<line x1="317.2" y1="157.7" x2="326.6" y2="157.3" stroke="#7070ff" stroke-width="0.9"/>
<line x1="326.6" y1="157.3" x2="335.9" y2="156.9" stroke="#b0ffff" stroke-width="0.9"/>
<line x1="317.4" y1="160.3" x2="326.7" y2="159.9" stroke="#7070ff" stroke-width="0.9"/>
<line x1="326.7" y1="159.9" x2="336.1" y2="159.5" stroke="#b0ffff" stroke-width="0.9"/>
<line x1="336" y1="158.2" x2="347.2" y2="157.3" stroke="#10e8e8" stroke-width="3.4"/>
<line x1="347.2" y1="157.3" x2="358.5" y2="156.4" stroke="#0000e0" stroke-width="3.4"/>
<line x1="336" y1="158.2" x2="347.2" y2="157.3" stroke="#b0ffff" stroke-width="0.8" stroke-opacity="0.7"/>
<line x1="347.2" y1="157.3" x2="358.5" y2="156.4" stroke="#7070ff" stroke-width="0.8" stroke-opacity="0.7"/>
<line x1="358.5" y1="156.4" x2="365.6" y2="163.7" stroke="#0000e0" stroke-width="5.8"/>
<line x1="365.6" y1="163.7" x2="372.6" y2="171" stroke="#10e8e8" stroke-width="5.8"/>
<line x1="358.5" y1="156.4" x2="365.6" y2="163.7" stroke="#7070ff" stroke-width="0.9"/>
<line x1="365.6" y1="163.7" x2="372.6" y2="171" stroke="#b0ffff" stroke-width="0.9"/>
<line x1="385" y1="142" x2="389.5" y2="148.5" stroke="#c8c8c8" stroke-width="3.4"/>
<line x1="389.5" y1="148.5" x2="394" y2="155" stroke="#e00000" stroke-width="3.4"/>
<line x1="385" y1="142" x2="389.5" y2="148.5" stroke="#f0f0f0" stroke-width="0.8" stroke-opacity="0.7"/>
<line x1="389.5" y1="148.5" x2="394" y2="155" stroke="#ff9090" stroke-width="0.8" stroke-opacity="0.7"/>
<line x1="394" y1="155" x2="399.6" y2="156.6" stroke="#e00000" stroke-width="3.4"/>
<line x1="399.6" y1="156.6" x2="405.3" y2="158.2" stroke="#c8c8c8" stroke-width="3.4"/>
<line x1="394" y1="155" x2="399.6" y2="156.6" stroke="#ff9090" stroke-width="0.8" stroke-opacity="0.7"/>
<line x1="399.6" y1="156.6" x2="405.3" y2="158.2" stroke="#f0f0f0" stroke-width="0.8" stroke-opacity="0.7"/>
<circle cx="317.3" cy="159" r="6.2" fill="url(#gN)"/>
<circle cx="336" cy="158.2" r="6.4" fill="url(#gC)"/>
<circle cx="358.5" cy="156.4" r="6.2" fill="url(#gN)"/>
<circle cx="372.6" cy="171" r="6.4" fill="url(#gC)"/>
<circle cx="385" cy="142" r="4.5" fill="url(#gH)"/>
<circle cx="394" cy="155" r="5.6" fill="url(#gO)"/>
<circle cx="405.3" cy="158.2" r="4.5" fill="url(#gH)"/>
<line x1="269.1" y1="340.2" x2="239" y2="363.4" stroke="#8c8cff" stroke-width="0.9"/>
<line x1="260.4" y1="326" x2="264.8" y2="333.1" stroke="#c8c8c8" stroke-width="3.9"/>
<line x1="264.8" y1="333.1" x2="269.1" y2="340.2" stroke="#10e8e8" stroke-width="3.9"/>
<line x1="260.4" y1="326" x2="264.8" y2="333.1" stroke="#f0f0f0" stroke-width="0.8" stroke-opacity="0.7"/>
<line x1="264.8" y1="333.1" x2="269.1" y2="340.2" stroke="#b0ffff" stroke-width="0.8" stroke-opacity="0.7"/>
<line x1="269.1" y1="340.2" x2="276.6" y2="345.4" stroke="#10e8e8" stroke-width="3.9"/>
<line x1="276.6" y1="345.4" x2="284" y2="350.5" stroke="#0000e0" stroke-width="3.9"/>
<line x1="269.1" y1="340.2" x2="276.6" y2="345.4" stroke="#b0ffff" stroke-width="0.8" stroke-opacity="0.7"/>
<line x1="276.6" y1="345.4" x2="284" y2="350.5" stroke="#7070ff" stroke-width="0.8" stroke-opacity="0.7"/>
<line x1="284" y1="350.5" x2="291.4" y2="356.3" stroke="#0000e0" stroke-width="6.6"/>
<line x1="291.4" y1="356.3" x2="298.9" y2="362.1" stroke="#e00000" stroke-width="6.6"/>
<line x1="284" y1="350.5" x2="291.4" y2="356.3" stroke="#7070ff" stroke-width="0.9"/>
<line x1="291.4" y1="356.3" x2="298.9" y2="362.1" stroke="#ff9090" stroke-width="0.9"/>
<line x1="239" y1="363.4" x2="236.8" y2="367.9" stroke="#0000e0" stroke-width="3.9"/>
<line x1="236.8" y1="367.9" x2="234.6" y2="372.4" stroke="#c8c8c8" stroke-width="3.9"/>
<line x1="239" y1="363.4" x2="236.8" y2="367.9" stroke="#7070ff" stroke-width="0.8" stroke-opacity="0.7"/>
<line x1="236.8" y1="367.9" x2="234.6" y2="372.4" stroke="#f0f0f0" stroke-width="0.8" stroke-opacity="0.7"/>
<line x1="239" y1="363.4" x2="245.8" y2="368.1" stroke="#0000e0" stroke-width="3.9"/>
<line x1="245.8" y1="368.1" x2="252.6" y2="372.9" stroke="#c8c8c8" stroke-width="3.9"/>
<line x1="239" y1="363.4" x2="245.8" y2="368.1" stroke="#7070ff" stroke-width="0.8" stroke-opacity="0.7"/>
<line x1="245.8" y1="368.1" x2="252.6" y2="372.9" stroke="#f0f0f0" stroke-width="0.8" stroke-opacity="0.7"/>
<circle cx="260.4" cy="326" r="5.4" fill="url(#gH)"/>
<circle cx="269.1" cy="340.2" r="7.7" fill="url(#gC)"/>
<circle cx="284" cy="350.5" r="7.5" fill="url(#gN)"/>
<circle cx="298.9" cy="362.1" r="6.8" fill="url(#gO)"/>
<circle cx="239" cy="363.4" r="7.5" fill="url(#gN)"/>
<circle cx="234.6" cy="372.4" r="5.4" fill="url(#gH)"/>
<circle cx="252.6" cy="372.9" r="5.4" fill="url(#gH)"/>
<line x1="384.4" y1="304.2" x2="388.9" y2="311.9" stroke="#c8c8c8" stroke-width="3.9"/>
<line x1="388.9" y1="311.9" x2="393.4" y2="319.6" stroke="#10e8e8" stroke-width="3.9"/>
<line x1="384.4" y1="304.2" x2="388.9" y2="311.9" stroke="#f0f0f0" stroke-width="0.8" stroke-opacity="0.7"/>
<line x1="388.9" y1="311.9" x2="393.4" y2="319.6" stroke="#b0ffff" stroke-width="0.8" stroke-opacity="0.7"/>
<line x1="393.4" y1="319.6" x2="388.6" y2="326.5" stroke="#10e8e8" stroke-width="3.9"/>
<line x1="388.6" y1="326.5" x2="383.8" y2="333.3" stroke="#c8c8c8" stroke-width="3.9"/>
<line x1="393.4" y1="319.6" x2="388.6" y2="326.5" stroke="#b0ffff" stroke-width="0.8" stroke-opacity="0.7"/>
<line x1="388.6" y1="326.5" x2="383.8" y2="333.3" stroke="#f0f0f0" stroke-width="0.8" stroke-opacity="0.7"/>
<line x1="393.4" y1="319.6" x2="405.6" y2="318.3" stroke="#10e8e8" stroke-width="3.9"/>
<line x1="405.6" y1="318.3" x2="417.8" y2="317" stroke="#0000e0" stroke-width="3.9"/>
<line x1="393.4" y1="319.6" x2="405.6" y2="318.3" stroke="#b0ffff" stroke-width="0.8" stroke-opacity="0.7"/>
<line x1="405.6" y1="318.3" x2="417.8" y2="317" stroke="#7070ff" stroke-width="0.8" stroke-opacity="0.7"/>
<line x1="417.8" y1="317" x2="425.5" y2="324.1" stroke="#0000e0" stroke-width="6.6"/>
<line x1="425.5" y1="324.1" x2="433.2" y2="331.2" stroke="#0000e0" stroke-width="6.6"/>
<line x1="417.8" y1="317" x2="425.5" y2="324.1" stroke="#7070ff" stroke-width="0.9"/>
<line x1="425.5" y1="324.1" x2="433.2" y2="331.2" stroke="#7070ff" stroke-width="0.9"/>
<circle cx="384.4" cy="304.2" r="5.4" fill="url(#gH)"/>
<circle cx="393.4" cy="319.6" r="7.7" fill="url(#gC)"/>
<circle cx="383.8" cy="333.3" r="5.4" fill="url(#gH)"/>
<circle cx="417.8" cy="317" r="7.5" fill="url(#gN)"/>
<circle cx="433.2" cy="331.2" r="7.5" fill="url(#gN)"/>
<line x1="309.3" y1="388.3" x2="313.8" y2="397.5" stroke="#c8c8c8" stroke-width="3.9"/>
<line x1="313.8" y1="397.5" x2="318.3" y2="406.7" stroke="#10e8e8" stroke-width="3.9"/>
<line x1="309.3" y1="388.3" x2="313.8" y2="397.5" stroke="#f0f0f0" stroke-width="0.8" stroke-opacity="0.7"/>
<line x1="313.8" y1="397.5" x2="318.3" y2="406.7" stroke="#b0ffff" stroke-width="0.8" stroke-opacity="0.7"/>
<line x1="318.3" y1="406.7" x2="330.8" y2="408.4" stroke="#10e8e8" stroke-width="3.9"/>
<line x1="330.8" y1="408.4" x2="343.3" y2="410" stroke="#0000e0" stroke-width="3.9"/>
<line x1="318.3" y1="406.7" x2="330.8" y2="408.4" stroke="#b0ffff" stroke-width="0.8" stroke-opacity="0.7"/>
<line x1="330.8" y1="408.4" x2="343.3" y2="410" stroke="#7070ff" stroke-width="0.8" stroke-opacity="0.7"/>
<line x1="343.3" y1="410" x2="351.6" y2="417.5" stroke="#0000e0" stroke-width="6.6"/>
<line x1="351.6" y1="417.5" x2="360" y2="425" stroke="#e00000" stroke-width="6.6"/>
<line x1="343.3" y1="410" x2="351.6" y2="417.5" stroke="#7070ff" stroke-width="0.9"/>
<line x1="351.6" y1="417.5" x2="360" y2="425" stroke="#ff9090" stroke-width="0.9"/>
<line x1="318.3" y1="406.7" x2="308.3" y2="416.4" stroke="#10e8e8" stroke-width="3.9"/>
<line x1="308.3" y1="416.4" x2="298.3" y2="426" stroke="#0000e0" stroke-width="3.9"/>
<line x1="318.3" y1="406.7" x2="308.3" y2="416.4" stroke="#b0ffff" stroke-width="0.8" stroke-opacity="0.7"/>
<line x1="308.3" y1="416.4" x2="298.3" y2="426" stroke="#7070ff" stroke-width="0.8" stroke-opacity="0.7"/>
<line x1="298.3" y1="426" x2="290.8" y2="425.5" stroke="#0000e0" stroke-width="3.9"/>
<line x1="290.8" y1="425.5" x2="283.3" y2="425" stroke="#c8c8c8" stroke-width="3.9"/>
<line x1="298.3" y1="426" x2="290.8" y2="425.5" stroke="#7070ff" stroke-width="0.8" stroke-opacity="0.7"/>
<line x1="290.8" y1="425.5" x2="283.3" y2="425" stroke="#f0f0f0" stroke-width="0.8" stroke-opacity="0.7"/>
<line x1="298.3" y1="426" x2="303.3" y2="434.4" stroke="#0000e0" stroke-width="3.9"/>
<line x1="303.3" y1="434.4" x2="308.3" y2="442.7" stroke="#c8c8c8" stroke-width="3.9"/>
<line x1="298.3" y1="426" x2="303.3" y2="434.4" stroke="#7070ff" stroke-width="0.8" stroke-opacity="0.7"/>
<line x1="303.3" y1="434.4" x2="308.3" y2="442.7" stroke="#f0f0f0" stroke-width="0.8" stroke-opacity="0.7"/>
<circle cx="309.3" cy="388.3" r="5.4" fill="url(#gH)"/>
<circle cx="318.3" cy="406.7" r="7.7" fill="url(#gC)"/>
<circle cx="343.3" cy="410" r="7.5" fill="url(#gN)"/>
<circle cx="360" cy="425" r="6.8" fill="url(#gO)"/>
<circle cx="298.3" cy="426" r="7.5" fill="url(#gN)"/>
<circle cx="283.3" cy="425" r="5.4" fill="url(#gH)"/>
<circle cx="308.3" cy="442.7" r="5.4" fill="url(#gH)"/>
<line x1="467.4" y1="33" x2="483" y2="48.8" stroke="#8c8cff" stroke-width="0.9"/>
<line x1="467.4" y1="33" x2="462.3" y2="57.9" stroke="#8c8cff" stroke-width="0.9"/>
<line x1="483" y1="48.8" x2="491.9" y2="53.6" stroke="#0000e0" stroke-width="6.4"/>
<line x1="491.9" y1="53.6" x2="500.7" y2="58.5" stroke="#0000e0" stroke-width="6.4"/>
<line x1="483" y1="48.8" x2="491.9" y2="53.6" stroke="#7070ff" stroke-width="0.9"/>
<line x1="491.9" y1="53.6" x2="500.7" y2="58.5" stroke="#7070ff" stroke-width="0.9"/>
<line x1="462.3" y1="57.9" x2="472.6" y2="53.3" stroke="#10e8e8" stroke-width="6.4"/>
<line x1="472.6" y1="53.3" x2="483" y2="48.8" stroke="#0000e0" stroke-width="6.4"/>
<line x1="462.3" y1="57.9" x2="472.6" y2="53.3" stroke="#b0ffff" stroke-width="0.9"/>
<line x1="472.6" y1="53.3" x2="483" y2="48.8" stroke="#7070ff" stroke-width="0.9"/>
<line x1="462.3" y1="57.9" x2="457.1" y2="66.2" stroke="#10e8e8" stroke-width="3.8"/>
<line x1="457.1" y1="66.2" x2="451.9" y2="74.4" stroke="#c8c8c8" stroke-width="3.8"/>
<line x1="462.3" y1="57.9" x2="457.1" y2="66.2" stroke="#b0ffff" stroke-width="0.8" stroke-opacity="0.7"/>
<line x1="457.1" y1="66.2" x2="451.9" y2="74.4" stroke="#f0f0f0" stroke-width="0.8" stroke-opacity="0.7"/>
<circle cx="467.4" cy="33" r="5" fill="url(#gH)"/>
<circle cx="483" cy="48.8" r="6.9" fill="url(#gN)"/>
<circle cx="500.7" cy="58.5" r="6.9" fill="url(#gN)"/>
<circle cx="462.3" cy="57.9" r="7.1" fill="url(#gC)"/>
<circle cx="451.9" cy="74.4" r="5" fill="url(#gH)"/>
<line x1="545.6" y1="148.6" x2="533.1" y2="164.9" stroke="#8c8cff" stroke-width="0.9"/>
<line x1="545.6" y1="148.6" x2="555.2" y2="167.8" stroke="#8c8cff" stroke-width="0.9"/>
<line x1="533.1" y1="164.9" x2="544.2" y2="166.4" stroke="#10e8e8" stroke-width="6.6"/>
<line x1="544.2" y1="166.4" x2="555.2" y2="167.8" stroke="#0000e0" stroke-width="6.6"/>
<line x1="533.1" y1="164.9" x2="544.2" y2="166.4" stroke="#b0ffff" stroke-width="0.9"/>
<line x1="544.2" y1="166.4" x2="555.2" y2="167.8" stroke="#7070ff" stroke-width="0.9"/>
<line x1="555.2" y1="167.8" x2="562.7" y2="174.2" stroke="#0000e0" stroke-width="6.6"/>
<line x1="562.7" y1="174.2" x2="570.1" y2="180.6" stroke="#e00000" stroke-width="6.6"/>
<line x1="555.2" y1="167.8" x2="562.7" y2="174.2" stroke="#7070ff" stroke-width="0.9"/>
<line x1="562.7" y1="174.2" x2="570.1" y2="180.6" stroke="#ff9090" stroke-width="0.9"/>
<line x1="533.1" y1="164.9" x2="523" y2="170.9" stroke="#10e8e8" stroke-width="3.9"/>
<line x1="523" y1="170.9" x2="513" y2="176.8" stroke="#0000e0" stroke-width="3.9"/>
<line x1="533.1" y1="164.9" x2="523" y2="170.9" stroke="#b0ffff" stroke-width="0.8" stroke-opacity="0.7"/>
<line x1="523" y1="170.9" x2="513" y2="176.8" stroke="#7070ff" stroke-width="0.8" stroke-opacity="0.7"/>
<line x1="513" y1="176.8" x2="506.8" y2="173.6" stroke="#0000e0" stroke-width="3.9"/>
<line x1="506.8" y1="173.6" x2="500.5" y2="170.3" stroke="#c8c8c8" stroke-width="3.9"/>
<line x1="513" y1="176.8" x2="506.8" y2="173.6" stroke="#7070ff" stroke-width="0.8" stroke-opacity="0.7"/>
<line x1="506.8" y1="173.6" x2="500.5" y2="170.3" stroke="#f0f0f0" stroke-width="0.8" stroke-opacity="0.7"/>
<line x1="513" y1="176.8" x2="513.2" y2="185.4" stroke="#0000e0" stroke-width="3.9"/>
<line x1="513.2" y1="185.4" x2="513.4" y2="194" stroke="#c8c8c8" stroke-width="3.9"/>
<line x1="513" y1="176.8" x2="513.2" y2="185.4" stroke="#7070ff" stroke-width="0.8" stroke-opacity="0.7"/>
<line x1="513.2" y1="185.4" x2="513.4" y2="194" stroke="#f0f0f0" stroke-width="0.8" stroke-opacity="0.7"/>
<circle cx="545.6" cy="148.6" r="5.3" fill="url(#gH)"/>
<circle cx="533.1" cy="164.9" r="7.5" fill="url(#gC)"/>
<circle cx="555.2" cy="167.8" r="7.3" fill="url(#gN)"/>
<circle cx="570.1" cy="180.6" r="6.7" fill="url(#gO)"/>
<circle cx="513" cy="176.8" r="7.3" fill="url(#gN)"/>
<circle cx="500.5" cy="170.3" r="5.3" fill="url(#gH)"/>
<circle cx="513.4" cy="194" r="5.3" fill="url(#gH)"/>
<line x1="669.7" y1="28" x2="667.4" y2="36.4" stroke="#c8c8c8" stroke-width="3.9"/>
<line x1="667.4" y1="36.4" x2="665" y2="44.7" stroke="#0000e0" stroke-width="3.9"/>
<line x1="669.7" y1="28" x2="667.4" y2="36.4" stroke="#f0f0f0" stroke-width="0.8" stroke-opacity="0.7"/>
<line x1="667.4" y1="36.4" x2="665" y2="44.7" stroke="#7070ff" stroke-width="0.8" stroke-opacity="0.7"/>
<line x1="665" y1="44.7" x2="674.5" y2="51.9" stroke="#0000e0" stroke-width="6.6"/>
<line x1="674.5" y1="51.9" x2="684" y2="59" stroke="#0000e0" stroke-width="6.6"/>
<line x1="665" y1="44.7" x2="674.5" y2="51.9" stroke="#7070ff" stroke-width="0.9"/>
<line x1="674.5" y1="51.9" x2="684" y2="59" stroke="#7070ff" stroke-width="0.9"/>
<line x1="665" y1="44.7" x2="653" y2="47" stroke="#0000e0" stroke-width="3.9"/>
<line x1="653" y1="47" x2="641" y2="49.3" stroke="#10e8e8" stroke-width="3.9"/>
<line x1="665" y1="44.7" x2="653" y2="47" stroke="#7070ff" stroke-width="0.8" stroke-opacity="0.7"/>
<line x1="653" y1="47" x2="641" y2="49.3" stroke="#b0ffff" stroke-width="0.8" stroke-opacity="0.7"/>
<line x1="641" y1="49.3" x2="638.5" y2="58.1" stroke="#10e8e8" stroke-width="3.9"/>
<line x1="638.5" y1="58.1" x2="636" y2="67" stroke="#c8c8c8" stroke-width="3.9"/>
<line x1="641" y1="49.3" x2="638.5" y2="58.1" stroke="#b0ffff" stroke-width="0.8" stroke-opacity="0.7"/>
<line x1="638.5" y1="58.1" x2="636" y2="67" stroke="#f0f0f0" stroke-width="0.8" stroke-opacity="0.7"/>
<circle cx="669.7" cy="28" r="5.7" fill="url(#gH)"/>
<circle cx="665" cy="44.7" r="7.9" fill="url(#gN)"/>
<circle cx="684" cy="59" r="7.9" fill="url(#gN)"/>
<circle cx="641" cy="49.3" r="8.1" fill="url(#gC)"/>
<circle cx="636" cy="67" r="5.7" fill="url(#gH)"/>
<line x1="611" y1="223.8" x2="622.4" y2="221.2" stroke="#0000e0" stroke-width="9.2"/>
<line x1="622.4" y1="221.2" x2="633.8" y2="218.6" stroke="#10e8e8" stroke-width="9.2"/>
<line x1="610.7" y1="222.3" x2="622.1" y2="219.7" stroke="#7070ff" stroke-width="0.9"/>
<line x1="622.1" y1="219.7" x2="633.5" y2="217.1" stroke="#b0ffff" stroke-width="0.9"/>
<line x1="611.3" y1="225.3" x2="622.7" y2="222.7" stroke="#7070ff" stroke-width="0.9"/>
<line x1="622.7" y1="222.7" x2="634.1" y2="220.1" stroke="#b0ffff" stroke-width="0.9"/>
<line x1="633.8" y1="218.6" x2="646.7" y2="215.2" stroke="#10e8e8" stroke-width="3.9"/>
<line x1="646.7" y1="215.2" x2="659.6" y2="211.9" stroke="#0000e0" stroke-width="3.9"/>
<line x1="633.8" y1="218.6" x2="646.7" y2="215.2" stroke="#b0ffff" stroke-width="0.8" stroke-opacity="0.7"/>
<line x1="646.7" y1="215.2" x2="659.6" y2="211.9" stroke="#7070ff" stroke-width="0.8" stroke-opacity="0.7"/>
<line x1="659.6" y1="211.9" x2="661.5" y2="202.6" stroke="#0000e0" stroke-width="3.9"/>
<line x1="661.5" y1="202.6" x2="663.5" y2="193.3" stroke="#c8c8c8" stroke-width="3.9"/>
<line x1="659.6" y1="211.9" x2="661.5" y2="202.6" stroke="#7070ff" stroke-width="0.8" stroke-opacity="0.7"/>
<line x1="661.5" y1="202.6" x2="663.5" y2="193.3" stroke="#f0f0f0" stroke-width="0.8" stroke-opacity="0.7"/>
<line x1="659.6" y1="211.9" x2="669.7" y2="220.5" stroke="#0000e0" stroke-width="3.9"/>
<line x1="669.7" y1="220.5" x2="679.8" y2="229.1" stroke="#10e8e8" stroke-width="3.9"/>
<line x1="659.6" y1="211.9" x2="669.7" y2="220.5" stroke="#7070ff" stroke-width="0.8" stroke-opacity="0.7"/>
<line x1="669.7" y1="220.5" x2="679.8" y2="229.1" stroke="#b0ffff" stroke-width="0.8" stroke-opacity="0.7"/>
<line x1="679.8" y1="229.1" x2="691.3" y2="224.6" stroke="#10e8e8" stroke-width="3.9"/>
<line x1="691.3" y1="224.6" x2="702.8" y2="220.1" stroke="#e00000" stroke-width="3.9"/>
<line x1="679.8" y1="229.1" x2="691.3" y2="224.6" stroke="#b0ffff" stroke-width="0.8" stroke-opacity="0.7"/>
<line x1="691.3" y1="224.6" x2="702.8" y2="220.1" stroke="#ff9090" stroke-width="0.8" stroke-opacity="0.7"/>
<line x1="702.8" y1="220.1" x2="703.2" y2="210.9" stroke="#e00000" stroke-width="3.9"/>
<line x1="703.2" y1="210.9" x2="703.7" y2="201.7" stroke="#c8c8c8" stroke-width="3.9"/>
<line x1="702.8" y1="220.1" x2="703.2" y2="210.9" stroke="#ff9090" stroke-width="0.8" stroke-opacity="0.7"/>
<line x1="703.2" y1="210.9" x2="703.7" y2="201.7" stroke="#f0f0f0" stroke-width="0.8" stroke-opacity="0.7"/>
<circle cx="611" cy="223.8" r="7.7" fill="url(#gN)"/>
<circle cx="633.8" cy="218.6" r="7.9" fill="url(#gC)"/>
<circle cx="659.6" cy="211.9" r="7.7" fill="url(#gN)"/>
<circle cx="663.5" cy="193.3" r="5.6" fill="url(#gH)"/>
<circle cx="679.8" cy="229.1" r="7.9" fill="url(#gC)"/>
<circle cx="702.8" cy="220.1" r="7" fill="url(#gO)"/>
<circle cx="703.7" cy="201.7" r="5.6" fill="url(#gH)"/>
<line x1="734.4" y1="132.5" x2="752.4" y2="147.2" stroke="#8c8cff" stroke-width="0.9"/>
<line x1="752.4" y1="147.2" x2="756" y2="172.4" stroke="#8c8cff" stroke-width="0.9"/>
<line x1="696.4" y1="149.2" x2="705.1" y2="144.7" stroke="#0000e0" stroke-width="9.2"/>
<line x1="705.1" y1="144.7" x2="713.8" y2="140.2" stroke="#10e8e8" stroke-width="9.2"/>
<line x1="695.7" y1="147.8" x2="704.4" y2="143.3" stroke="#7070ff" stroke-width="0.9"/>
<line x1="704.4" y1="143.3" x2="713.1" y2="138.8" stroke="#b0ffff" stroke-width="0.9"/>
<line x1="697.1" y1="150.6" x2="705.8" y2="146.1" stroke="#7070ff" stroke-width="0.9"/>
<line x1="705.8" y1="146.1" x2="714.5" y2="141.6" stroke="#b0ffff" stroke-width="0.9"/>
<line x1="713.8" y1="140.2" x2="724.1" y2="136.3" stroke="#10e8e8" stroke-width="6.6"/>
<line x1="724.1" y1="136.3" x2="734.4" y2="132.5" stroke="#0000e0" stroke-width="6.6"/>
<line x1="713.8" y1="140.2" x2="724.1" y2="136.3" stroke="#b0ffff" stroke-width="0.9"/>
<line x1="724.1" y1="136.3" x2="734.4" y2="132.5" stroke="#7070ff" stroke-width="0.9"/>
<line x1="734.4" y1="132.5" x2="736.8" y2="125.4" stroke="#0000e0" stroke-width="3.9"/>
<line x1="736.8" y1="125.4" x2="739.3" y2="118.3" stroke="#c8c8c8" stroke-width="3.9"/>
<line x1="734.4" y1="132.5" x2="736.8" y2="125.4" stroke="#7070ff" stroke-width="0.8" stroke-opacity="0.7"/>
<line x1="736.8" y1="125.4" x2="739.3" y2="118.3" stroke="#f0f0f0" stroke-width="0.8" stroke-opacity="0.7"/>
<line x1="756" y1="172.4" x2="752.3" y2="181.2" stroke="#e00000" stroke-width="6.6"/>
<line x1="752.3" y1="181.2" x2="748.6" y2="189.9" stroke="#10e8e8" stroke-width="6.6"/>
<line x1="756" y1="172.4" x2="752.3" y2="181.2" stroke="#ff9090" stroke-width="0.9"/>
<line x1="752.3" y1="181.2" x2="748.6" y2="189.9" stroke="#b0ffff" stroke-width="0.9"/>
<circle cx="696.4" cy="149.2" r="7.1" fill="url(#gN)"/>
<circle cx="713.8" cy="140.2" r="7.3" fill="url(#gC)"/>
<circle cx="734.4" cy="132.5" r="7.1" fill="url(#gN)"/>
<circle cx="739.3" cy="118.3" r="5.1" fill="url(#gH)"/>
<circle cx="752.4" cy="147.2" r="5.1" fill="url(#gH)"/>
<circle cx="756" cy="172.4" r="6.5" fill="url(#gO)"/>
<circle cx="748.6" cy="189.9" r="7.3" fill="url(#gC)"/>
<line x1="832.3" y1="64.5" x2="856" y2="81.5" stroke="#8c8cff" stroke-width="0.9"/>
<line x1="856" y1="81.5" x2="877.9" y2="62.2" stroke="#8c8cff" stroke-width="0.9"/>
<line x1="832.3" y1="64.5" x2="843.7" y2="58.8" stroke="#10e8e8" stroke-width="3.9"/>
<line x1="843.7" y1="58.8" x2="855.1" y2="53.1" stroke="#0000e0" stroke-width="3.9"/>
<line x1="832.3" y1="64.5" x2="843.7" y2="58.8" stroke="#b0ffff" stroke-width="0.8" stroke-opacity="0.7"/>
<line x1="843.7" y1="58.8" x2="855.1" y2="53.1" stroke="#7070ff" stroke-width="0.8" stroke-opacity="0.7"/>
<line x1="855.1" y1="35.2" x2="855.1" y2="44.2" stroke="#c8c8c8" stroke-width="3.9"/>
<line x1="855.1" y1="44.2" x2="855.1" y2="53.1" stroke="#0000e0" stroke-width="3.9"/>
<line x1="855.1" y1="35.2" x2="855.1" y2="44.2" stroke="#f0f0f0" stroke-width="0.8" stroke-opacity="0.7"/>
<line x1="855.1" y1="44.2" x2="855.1" y2="53.1" stroke="#7070ff" stroke-width="0.8" stroke-opacity="0.7"/>
<line x1="855.1" y1="53.1" x2="866.5" y2="57.7" stroke="#0000e0" stroke-width="6.6"/>
<line x1="866.5" y1="57.7" x2="877.9" y2="62.2" stroke="#0000e0" stroke-width="6.6"/>
<line x1="855.1" y1="53.1" x2="866.5" y2="57.7" stroke="#7070ff" stroke-width="0.9"/>
<line x1="866.5" y1="57.7" x2="877.9" y2="62.2" stroke="#7070ff" stroke-width="0.9"/>
<circle cx="832.3" cy="64.5" r="8.1" fill="url(#gC)"/>
<circle cx="855.1" cy="35.2" r="5.7" fill="url(#gH)"/>
<circle cx="855.1" cy="53.1" r="7.9" fill="url(#gN)"/>
<circle cx="877.9" cy="62.2" r="7.9" fill="url(#gN)"/>
<circle cx="856" cy="81.5" r="5.7" fill="url(#gH)"/>
<line x1="927.4" y1="118.9" x2="922.8" y2="125" stroke="#c8c8c8" stroke-width="3.9"/>
<line x1="922.8" y1="125" x2="918.2" y2="131.1" stroke="#0000e0" stroke-width="3.9"/>
<line x1="927.4" y1="118.9" x2="922.8" y2="125" stroke="#f0f0f0" stroke-width="0.8" stroke-opacity="0.7"/>
<line x1="922.8" y1="125" x2="918.2" y2="131.1" stroke="#7070ff" stroke-width="0.8" stroke-opacity="0.7"/>
<line x1="918.2" y1="131.1" x2="906.4" y2="136.8" stroke="#0000e0" stroke-width="6.6"/>
<line x1="906.4" y1="136.8" x2="894.6" y2="142.5" stroke="#10e8e8" stroke-width="6.6"/>
<line x1="918.2" y1="131.1" x2="906.4" y2="136.8" stroke="#7070ff" stroke-width="0.9"/>
<line x1="906.4" y1="136.8" x2="894.6" y2="142.5" stroke="#b0ffff" stroke-width="0.9"/>
<line x1="894.6" y1="142.5" x2="906.4" y2="147.3" stroke="#10e8e8" stroke-width="6.6"/>
<line x1="906.4" y1="147.3" x2="918.2" y2="152.2" stroke="#0000e0" stroke-width="6.6"/>
<line x1="894.6" y1="142.5" x2="906.4" y2="147.3" stroke="#b0ffff" stroke-width="0.9"/>
<line x1="906.4" y1="147.3" x2="918.2" y2="152.2" stroke="#7070ff" stroke-width="0.9"/>
<line x1="918.2" y1="152.2" x2="922.8" y2="158.8" stroke="#0000e0" stroke-width="3.9"/>
<line x1="922.8" y1="158.8" x2="927.4" y2="165.4" stroke="#c8c8c8" stroke-width="3.9"/>
<line x1="918.2" y1="152.2" x2="922.8" y2="158.8" stroke="#7070ff" stroke-width="0.8" stroke-opacity="0.7"/>
<line x1="922.8" y1="158.8" x2="927.4" y2="165.4" stroke="#f0f0f0" stroke-width="0.8" stroke-opacity="0.7"/>
<circle cx="927.4" cy="118.9" r="5.4" fill="url(#gH)"/>
<circle cx="918.2" cy="131.1" r="7.5" fill="url(#gN)"/>
<circle cx="894.6" cy="142.5" r="7.7" fill="url(#gC)"/>
<circle cx="918.2" cy="152.2" r="7.5" fill="url(#gN)"/>
<circle cx="927.4" cy="165.4" r="5.4" fill="url(#gH)"/>
<line x1="1027.4" y1="82.7" x2="1058.4" y2="81.2" stroke="#8c8cff" stroke-width="0.9"/>
<line x1="1058.4" y1="81.2" x2="1053.8" y2="105.8" stroke="#8c8cff" stroke-width="0.9"/>
<line x1="1027.4" y1="82.7" x2="1028.9" y2="94.7" stroke="#0000e0" stroke-width="6.6"/>
<line x1="1028.9" y1="94.7" x2="1030.4" y2="106.7" stroke="#10e8e8" stroke-width="6.6"/>
<line x1="1027.4" y1="82.7" x2="1028.9" y2="94.7" stroke="#7070ff" stroke-width="0.9"/>
<line x1="1028.9" y1="94.7" x2="1030.4" y2="106.7" stroke="#b0ffff" stroke-width="0.9"/>
<line x1="1030.4" y1="106.7" x2="1042.1" y2="106.2" stroke="#10e8e8" stroke-width="3.9"/>
<line x1="1042.1" y1="106.2" x2="1053.8" y2="105.8" stroke="#0000e0" stroke-width="3.9"/>
<line x1="1030.4" y1="106.7" x2="1042.1" y2="106.2" stroke="#b0ffff" stroke-width="0.8" stroke-opacity="0.7"/>
<line x1="1042.1" y1="106.2" x2="1053.8" y2="105.8" stroke="#7070ff" stroke-width="0.8" stroke-opacity="0.7"/>
<line x1="1053.8" y1="105.8" x2="1061.9" y2="108.8" stroke="#0000e0" stroke-width="3.9"/>
<line x1="1061.9" y1="108.8" x2="1070" y2="111.8" stroke="#c8c8c8" stroke-width="3.9"/>
<line x1="1053.8" y1="105.8" x2="1061.9" y2="108.8" stroke="#7070ff" stroke-width="0.8" stroke-opacity="0.7"/>
<line x1="1061.9" y1="108.8" x2="1070" y2="111.8" stroke="#f0f0f0" stroke-width="0.8" stroke-opacity="0.7"/>
<circle cx="1027.4" cy="82.7" r="7.5" fill="url(#gN)"/>
<circle cx="1058.4" cy="81.2" r="5.4" fill="url(#gH)"/>
<circle cx="1030.4" cy="106.7" r="7.7" fill="url(#gC)"/>
<circle cx="1053.8" cy="105.8" r="7.5" fill="url(#gN)"/>
<circle cx="1070" cy="111.8" r="5.4" fill="url(#gH)"/>
<line x1="803.1" y1="289.8" x2="822.7" y2="289.8" stroke="#8c8cff" stroke-width="0.9"/>
<line x1="822.7" y1="289.8" x2="814.8" y2="307.3" stroke="#8c8cff" stroke-width="0.9"/>
<line x1="779.8" y1="287.5" x2="791.5" y2="288.6" stroke="#10e8e8" stroke-width="6.6"/>
<line x1="791.5" y1="288.6" x2="803.1" y2="289.8" stroke="#0000e0" stroke-width="6.6"/>
<line x1="779.8" y1="287.5" x2="791.5" y2="288.6" stroke="#b0ffff" stroke-width="0.9"/>
<line x1="791.5" y1="288.6" x2="803.1" y2="289.8" stroke="#7070ff" stroke-width="0.9"/>
<line x1="803.1" y1="289.8" x2="809" y2="298.6" stroke="#0000e0" stroke-width="3.9"/>
<line x1="809" y1="298.6" x2="814.8" y2="307.3" stroke="#e00000" stroke-width="3.9"/>
<line x1="803.1" y1="289.8" x2="809" y2="298.6" stroke="#7070ff" stroke-width="0.8" stroke-opacity="0.7"/>
<line x1="809" y1="298.6" x2="814.8" y2="307.3" stroke="#ff9090" stroke-width="0.8" stroke-opacity="0.7"/>
<line x1="779.8" y1="287.5" x2="773.2" y2="296.8" stroke="#10e8e8" stroke-width="3.9"/>
<line x1="773.2" y1="296.8" x2="766.7" y2="306" stroke="#0000e0" stroke-width="3.9"/>
<line x1="779.8" y1="287.5" x2="773.2" y2="296.8" stroke="#b0ffff" stroke-width="0.8" stroke-opacity="0.7"/>
<line x1="773.2" y1="296.8" x2="766.7" y2="306" stroke="#7070ff" stroke-width="0.8" stroke-opacity="0.7"/>
<line x1="766.7" y1="306" x2="759.1" y2="305.6" stroke="#0000e0" stroke-width="3.9"/>
<line x1="759.1" y1="305.6" x2="751.5" y2="305.3" stroke="#c8c8c8" stroke-width="3.9"/>
<line x1="766.7" y1="306" x2="759.1" y2="305.6" stroke="#7070ff" stroke-width="0.8" stroke-opacity="0.7"/>
<line x1="759.1" y1="305.6" x2="751.5" y2="305.3" stroke="#f0f0f0" stroke-width="0.8" stroke-opacity="0.7"/>
<line x1="766.7" y1="306" x2="770" y2="313.1" stroke="#0000e0" stroke-width="3.9"/>
<line x1="770" y1="313.1" x2="773.3" y2="320.2" stroke="#c8c8c8" stroke-width="3.9"/>
<line x1="766.7" y1="306" x2="770" y2="313.1" stroke="#7070ff" stroke-width="0.8" stroke-opacity="0.7"/>
<line x1="770" y1="313.1" x2="773.3" y2="320.2" stroke="#f0f0f0" stroke-width="0.8" stroke-opacity="0.7"/>
<circle cx="779.8" cy="287.5" r="7.3" fill="url(#gC)"/>
<circle cx="803.1" cy="289.8" r="7.1" fill="url(#gN)"/>
<circle cx="822.7" cy="289.8" r="5.1" fill="url(#gH)"/>
<circle cx="814.8" cy="307.3" r="6.5" fill="url(#gO)"/>
<circle cx="766.7" cy="306" r="7.1" fill="url(#gN)"/>
<circle cx="751.5" cy="305.3" r="5.1" fill="url(#gH)"/>
<circle cx="773.3" cy="320.2" r="5.1" fill="url(#gH)"/>
<line x1="623.2" y1="402.7" x2="631.5" y2="406" stroke="#c8c8c8" stroke-width="3.9"/>
<line x1="631.5" y1="406" x2="639.8" y2="409.4" stroke="#0000e0" stroke-width="3.9"/>
<line x1="623.2" y1="402.7" x2="631.5" y2="406" stroke="#f0f0f0" stroke-width="0.8" stroke-opacity="0.7"/>
<line x1="631.5" y1="406" x2="639.8" y2="409.4" stroke="#7070ff" stroke-width="0.8" stroke-opacity="0.7"/>
<line x1="639.8" y1="409.4" x2="640.5" y2="417.7" stroke="#0000e0" stroke-width="3.9"/>
<line x1="640.5" y1="417.7" x2="641.2" y2="426" stroke="#c8c8c8" stroke-width="3.9"/>
<line x1="639.8" y1="409.4" x2="640.5" y2="417.7" stroke="#7070ff" stroke-width="0.8" stroke-opacity="0.7"/>
<line x1="640.5" y1="417.7" x2="641.2" y2="426" stroke="#f0f0f0" stroke-width="0.8" stroke-opacity="0.7"/>
<line x1="639.8" y1="409.4" x2="649" y2="402.4" stroke="#0000e0" stroke-width="3.9"/>
<line x1="649" y1="402.4" x2="658.2" y2="395.4" stroke="#10e8e8" stroke-width="3.9"/>
<line x1="639.8" y1="409.4" x2="649" y2="402.4" stroke="#7070ff" stroke-width="0.8" stroke-opacity="0.7"/>
<line x1="649" y1="402.4" x2="658.2" y2="395.4" stroke="#b0ffff" stroke-width="0.8" stroke-opacity="0.7"/>
<line x1="658.2" y1="395.4" x2="669.4" y2="400.9" stroke="#10e8e8" stroke-width="3.9"/>
<line x1="669.4" y1="400.9" x2="680.6" y2="406.5" stroke="#0000e0" stroke-width="3.9"/>
<line x1="658.2" y1="395.4" x2="669.4" y2="400.9" stroke="#b0ffff" stroke-width="0.8" stroke-opacity="0.7"/>
<line x1="669.4" y1="400.9" x2="680.6" y2="406.5" stroke="#7070ff" stroke-width="0.8" stroke-opacity="0.7"/>
<line x1="680.6" y1="406.5" x2="688.7" y2="402.4" stroke="#0000e0" stroke-width="3.9"/>
<line x1="688.7" y1="402.4" x2="696.7" y2="398.3" stroke="#c8c8c8" stroke-width="3.9"/>
<line x1="680.6" y1="406.5" x2="688.7" y2="402.4" stroke="#7070ff" stroke-width="0.8" stroke-opacity="0.7"/>
<line x1="688.7" y1="402.4" x2="696.7" y2="398.3" stroke="#f0f0f0" stroke-width="0.8" stroke-opacity="0.7"/>
<line x1="680.6" y1="406.5" x2="682" y2="417.8" stroke="#0000e0" stroke-width="3.9"/>
<line x1="682" y1="417.8" x2="683.5" y2="429" stroke="#e00000" stroke-width="3.9"/>
<line x1="680.6" y1="406.5" x2="682" y2="417.8" stroke="#7070ff" stroke-width="0.8" stroke-opacity="0.7"/>
<line x1="682" y1="417.8" x2="683.5" y2="429" stroke="#ff9090" stroke-width="0.8" stroke-opacity="0.7"/>
<circle cx="623.2" cy="402.7" r="5.3" fill="url(#gH)"/>
<circle cx="639.8" cy="409.4" r="7.3" fill="url(#gN)"/>
<circle cx="641.2" cy="426" r="5.3" fill="url(#gH)"/>
<circle cx="658.2" cy="395.4" r="7.5" fill="url(#gC)"/>
<circle cx="680.6" cy="406.5" r="7.3" fill="url(#gN)"/>
<circle cx="696.7" cy="398.3" r="5.3" fill="url(#gH)"/>
<circle cx="683.5" cy="429" r="6.7" fill="url(#gO)"/>
<line x1="795.8" y1="366.2" x2="800.5" y2="371.4" stroke="#c8c8c8" stroke-width="3.8"/>
<line x1="800.5" y1="371.4" x2="805.2" y2="376.5" stroke="#0000e0" stroke-width="3.8"/>
<line x1="795.8" y1="366.2" x2="800.5" y2="371.4" stroke="#f0f0f0" stroke-width="0.8" stroke-opacity="0.7"/>
<line x1="800.5" y1="371.4" x2="805.2" y2="376.5" stroke="#7070ff" stroke-width="0.8" stroke-opacity="0.7"/>
<line x1="795.8" y1="385.2" x2="800.5" y2="380.9" stroke="#c8c8c8" stroke-width="3.8"/>
<line x1="800.5" y1="380.9" x2="805.2" y2="376.5" stroke="#0000e0" stroke-width="3.8"/>
<line x1="795.8" y1="385.2" x2="800.5" y2="380.9" stroke="#f0f0f0" stroke-width="0.8" stroke-opacity="0.7"/>
<line x1="800.5" y1="380.9" x2="805.2" y2="376.5" stroke="#7070ff" stroke-width="0.8" stroke-opacity="0.7"/>
<line x1="805.2" y1="376.5" x2="814.8" y2="372.1" stroke="#0000e0" stroke-width="3.8"/>
<line x1="814.8" y1="372.1" x2="824.4" y2="367.7" stroke="#10e8e8" stroke-width="3.8"/>
<line x1="805.2" y1="376.5" x2="814.8" y2="372.1" stroke="#7070ff" stroke-width="0.8" stroke-opacity="0.7"/>
<line x1="814.8" y1="372.1" x2="824.4" y2="367.7" stroke="#b0ffff" stroke-width="0.8" stroke-opacity="0.7"/>
<line x1="824.4" y1="367.7" x2="834.2" y2="366.2" stroke="#10e8e8" stroke-width="6.5"/>
<line x1="834.2" y1="366.2" x2="844" y2="364.8" stroke="#0000e0" stroke-width="6.5"/>
<line x1="824.4" y1="367.7" x2="834.2" y2="366.2" stroke="#b0ffff" stroke-width="0.9"/>
<line x1="834.2" y1="366.2" x2="844" y2="364.8" stroke="#7070ff" stroke-width="0.9"/>
<line x1="844" y1="364.8" x2="851.7" y2="371.4" stroke="#0000e0" stroke-width="3.8"/>
<line x1="851.7" y1="371.4" x2="859.4" y2="377.9" stroke="#e00000" stroke-width="3.8"/>
<line x1="844" y1="364.8" x2="851.7" y2="371.4" stroke="#7070ff" stroke-width="0.8" stroke-opacity="0.7"/>
<line x1="851.7" y1="371.4" x2="859.4" y2="377.9" stroke="#ff9090" stroke-width="0.8" stroke-opacity="0.7"/>
<line x1="859.4" y1="377.9" x2="867" y2="375.3" stroke="#e00000" stroke-width="3.8"/>
<line x1="867" y1="375.3" x2="874.6" y2="372.7" stroke="#c8c8c8" stroke-width="3.8"/>
<line x1="859.4" y1="377.9" x2="867" y2="375.3" stroke="#ff9090" stroke-width="0.8" stroke-opacity="0.7"/>
<line x1="867" y1="375.3" x2="874.6" y2="372.7" stroke="#f0f0f0" stroke-width="0.8" stroke-opacity="0.7"/>
<circle cx="805.2" cy="376.5" r="7" fill="url(#gN)"/>
<circle cx="824.4" cy="367.7" r="7.2" fill="url(#gC)"/>
<circle cx="844" cy="364.8" r="7" fill="url(#gN)"/>
<circle cx="859.4" cy="377.9" r="6.3" fill="url(#gO)"/>
<circle cx="874.6" cy="372.7" r="5" fill="url(#gH)"/>
<circle cx="795.8" cy="366.2" r="5" fill="url(#gH)"/>
<circle cx="795.8" cy="385.2" r="5" fill="url(#gH)"/>
<line x1="821.5" y1="424" x2="825.5" y2="423.1" stroke="#c8c8c8" stroke-width="3.8"/>
<line x1="825.5" y1="423.1" x2="829.4" y2="422.2" stroke="#0000e0" stroke-width="3.8"/>
<line x1="821.5" y1="424" x2="825.5" y2="423.1" stroke="#f0f0f0" stroke-width="0.8" stroke-opacity="0.7"/>
<line x1="825.5" y1="423.1" x2="829.4" y2="422.2" stroke="#7070ff" stroke-width="0.8" stroke-opacity="0.7"/>
<line x1="820.6" y1="431.9" x2="825" y2="427" stroke="#c8c8c8" stroke-width="3.8"/>
<line x1="825" y1="427" x2="829.4" y2="422.2" stroke="#0000e0" stroke-width="3.8"/>
<line x1="820.6" y1="431.9" x2="825" y2="427" stroke="#f0f0f0" stroke-width="0.8" stroke-opacity="0.7"/>
<line x1="825" y1="427" x2="829.4" y2="422.2" stroke="#7070ff" stroke-width="0.8" stroke-opacity="0.7"/>
<line x1="829.4" y1="422.2" x2="841" y2="422.2" stroke="#0000e0" stroke-width="3.8"/>
<line x1="841" y1="422.2" x2="852.7" y2="422.2" stroke="#10e8e8" stroke-width="3.8"/>
<line x1="829.4" y1="422.2" x2="841" y2="422.2" stroke="#7070ff" stroke-width="0.8" stroke-opacity="0.7"/>
<line x1="841" y1="422.2" x2="852.7" y2="422.2" stroke="#b0ffff" stroke-width="0.8" stroke-opacity="0.7"/>
<line x1="852.7" y1="422.2" x2="862.9" y2="422.2" stroke="#10e8e8" stroke-width="8.9"/>
<line x1="862.9" y1="422.2" x2="873.1" y2="422.2" stroke="#0000e0" stroke-width="8.9"/>
<line x1="852.7" y1="420.7" x2="862.9" y2="420.7" stroke="#b0ffff" stroke-width="0.9"/>
<line x1="862.9" y1="420.7" x2="873.1" y2="420.7" stroke="#7070ff" stroke-width="0.9"/>
<line x1="852.7" y1="423.7" x2="862.9" y2="423.7" stroke="#b0ffff" stroke-width="0.9"/>
<line x1="862.9" y1="423.7" x2="873.1" y2="423.7" stroke="#7070ff" stroke-width="0.9"/>
<circle cx="829.4" cy="422.2" r="6.9" fill="url(#gN)"/>
<circle cx="852.7" cy="422.2" r="7.1" fill="url(#gC)"/>
<circle cx="873.1" cy="422.2" r="6.9" fill="url(#gN)"/>
<circle cx="821.5" cy="424" r="5" fill="url(#gH)"/>
<circle cx="820.6" cy="431.9" r="5" fill="url(#gH)"/>
<line x1="862.5" y1="459.3" x2="871.1" y2="459.3" stroke="#e00000" stroke-width="3.9"/>
<line x1="871.1" y1="459.3" x2="879.7" y2="459.3" stroke="#c8c8c8" stroke-width="3.9"/>
<line x1="862.5" y1="459.3" x2="871.1" y2="459.3" stroke="#ff9090" stroke-width="0.8" stroke-opacity="0.7"/>
<line x1="871.1" y1="459.3" x2="879.7" y2="459.3" stroke="#f0f0f0" stroke-width="0.8" stroke-opacity="0.7"/>
<circle cx="862.5" cy="459.3" r="6.7" fill="url(#gO)"/>
<circle cx="879.7" cy="459.3" r="5.3" fill="url(#gH)"/>
<line x1="982.3" y1="299.8" x2="997.9" y2="323.2" stroke="#8c8cff" stroke-width="0.9"/>
<line x1="937.2" y1="294.6" x2="940.2" y2="298.7" stroke="#c8c8c8" stroke-width="3.9"/>
<line x1="940.2" y1="298.7" x2="943.2" y2="302.8" stroke="#0000e0" stroke-width="3.9"/>
<line x1="937.2" y1="294.6" x2="940.2" y2="298.7" stroke="#f0f0f0" stroke-width="0.8" stroke-opacity="0.7"/>
<line x1="940.2" y1="298.7" x2="943.2" y2="302.8" stroke="#7070ff" stroke-width="0.8" stroke-opacity="0.7"/>
<line x1="934.2" y1="307.6" x2="938.7" y2="305.2" stroke="#c8c8c8" stroke-width="3.9"/>
<line x1="938.7" y1="305.2" x2="943.2" y2="302.8" stroke="#0000e0" stroke-width="3.9"/>
<line x1="934.2" y1="307.6" x2="938.7" y2="305.2" stroke="#f0f0f0" stroke-width="0.8" stroke-opacity="0.7"/>
<line x1="938.7" y1="305.2" x2="943.2" y2="302.8" stroke="#7070ff" stroke-width="0.8" stroke-opacity="0.7"/>
<line x1="943.2" y1="302.8" x2="953.8" y2="302.5" stroke="#0000e0" stroke-width="3.9"/>
<line x1="953.8" y1="302.5" x2="964.3" y2="302.2" stroke="#10e8e8" stroke-width="3.9"/>
<line x1="943.2" y1="302.8" x2="953.8" y2="302.5" stroke="#7070ff" stroke-width="0.8" stroke-opacity="0.7"/>
<line x1="953.8" y1="302.5" x2="964.3" y2="302.2" stroke="#b0ffff" stroke-width="0.8" stroke-opacity="0.7"/>
<line x1="964.3" y1="302.2" x2="973.3" y2="301" stroke="#10e8e8" stroke-width="9.2"/>
<line x1="973.3" y1="301" x2="982.3" y2="299.8" stroke="#0000e0" stroke-width="9.2"/>
<line x1="964.1" y1="300.7" x2="973.1" y2="299.5" stroke="#b0ffff" stroke-width="0.9"/>
<line x1="973.1" y1="299.5" x2="982.1" y2="298.3" stroke="#7070ff" stroke-width="0.9"/>
<line x1="964.5" y1="303.7" x2="973.5" y2="302.5" stroke="#b0ffff" stroke-width="0.9"/>
<line x1="973.5" y1="302.5" x2="982.5" y2="301.3" stroke="#7070ff" stroke-width="0.9"/>
<line x1="997.9" y1="323.2" x2="1004.4" y2="320.9" stroke="#e00000" stroke-width="3.9"/>
<line x1="1004.4" y1="320.9" x2="1010.9" y2="318.7" stroke="#c8c8c8" stroke-width="3.9"/>
<line x1="997.9" y1="323.2" x2="1004.4" y2="320.9" stroke="#ff9090" stroke-width="0.8" stroke-opacity="0.7"/>
<line x1="1004.4" y1="320.9" x2="1010.9" y2="318.7" stroke="#f0f0f0" stroke-width="0.8" stroke-opacity="0.7"/>
<circle cx="943.2" cy="302.8" r="7.1" fill="url(#gN)"/>
<circle cx="964.3" cy="302.2" r="7.3" fill="url(#gC)"/>
<circle cx="982.3" cy="299.8" r="7.1" fill="url(#gN)"/>
<circle cx="997.9" cy="323.2" r="6.5" fill="url(#gO)"/>
<circle cx="1010.9" cy="318.7" r="5.1" fill="url(#gH)"/>
<circle cx="937.2" cy="294.6" r="5.1" fill="url(#gH)"/>
<circle cx="934.2" cy="307.6" r="5.1" fill="url(#gH)"/>
<line x1="1123.6" y1="266" x2="1131.8" y2="261.5" stroke="#0000e0" stroke-width="9.2"/>
<line x1="1131.8" y1="261.5" x2="1140" y2="257" stroke="#10e8e8" stroke-width="9.2"/>
<line x1="1122.9" y1="264.7" x2="1131.1" y2="260.2" stroke="#7070ff" stroke-width="0.9"/>
<line x1="1131.1" y1="260.2" x2="1139.3" y2="255.7" stroke="#b0ffff" stroke-width="0.9"/>
<line x1="1124.3" y1="267.3" x2="1132.5" y2="262.8" stroke="#7070ff" stroke-width="0.9"/>
<line x1="1132.5" y1="262.8" x2="1140.7" y2="258.3" stroke="#b0ffff" stroke-width="0.9"/>
<line x1="1140" y1="257" x2="1150.2" y2="251.8" stroke="#10e8e8" stroke-width="3.9"/>
<line x1="1150.2" y1="251.8" x2="1160.3" y2="246.5" stroke="#0000e0" stroke-width="3.9"/>
<line x1="1140" y1="257" x2="1150.2" y2="251.8" stroke="#b0ffff" stroke-width="0.8" stroke-opacity="0.7"/>
<line x1="1150.2" y1="251.8" x2="1160.3" y2="246.5" stroke="#7070ff" stroke-width="0.8" stroke-opacity="0.7"/>
<line x1="1160.3" y1="246.5" x2="1160.7" y2="240.1" stroke="#0000e0" stroke-width="3.9"/>
<line x1="1160.7" y1="240.1" x2="1161" y2="233.6" stroke="#c8c8c8" stroke-width="3.9"/>
<line x1="1160.3" y1="246.5" x2="1160.7" y2="240.1" stroke="#7070ff" stroke-width="0.8" stroke-opacity="0.7"/>
<line x1="1160.7" y1="240.1" x2="1161" y2="233.6" stroke="#f0f0f0" stroke-width="0.8" stroke-opacity="0.7"/>
<line x1="1160.3" y1="246.5" x2="1168.2" y2="250.2" stroke="#0000e0" stroke-width="3.9"/>
<line x1="1168.2" y1="250.2" x2="1176.2" y2="254" stroke="#c8c8c8" stroke-width="3.9"/>
<line x1="1160.3" y1="246.5" x2="1168.2" y2="250.2" stroke="#7070ff" stroke-width="0.8" stroke-opacity="0.7"/>
<line x1="1168.2" y1="250.2" x2="1176.2" y2="254" stroke="#f0f0f0" stroke-width="0.8" stroke-opacity="0.7"/>
<circle cx="1123.6" cy="266" r="7.5" fill="url(#gN)"/>
<circle cx="1140" cy="257" r="7.7" fill="url(#gC)"/>
<circle cx="1160.3" cy="246.5" r="7.5" fill="url(#gN)"/>
<circle cx="1161" cy="233.6" r="5.4" fill="url(#gH)"/>
<circle cx="1176.2" cy="254" r="5.4" fill="url(#gH)"/>
<line x1="1192" y1="280.5" x2="1186" y2="286.8" stroke="#e00000" stroke-width="9.2"/>
<line x1="1186" y1="286.8" x2="1180" y2="293" stroke="#10e8e8" stroke-width="9.2"/>
<line x1="1193.1" y1="281.6" x2="1187.1" y2="287.8" stroke="#ff9090" stroke-width="0.9"/>
<line x1="1187.1" y1="287.8" x2="1181.1" y2="294.1" stroke="#b0ffff" stroke-width="0.9"/>
<line x1="1190.9" y1="279.4" x2="1184.9" y2="285.7" stroke="#ff9090" stroke-width="0.9"/>
<line x1="1184.9" y1="285.7" x2="1178.9" y2="291.9" stroke="#b0ffff" stroke-width="0.9"/>
<circle cx="1192" cy="280.5" r="6.8" fill="url(#gO)"/>
<circle cx="1180" cy="293" r="7.7" fill="url(#gC)"/>
<line x1="982.3" y1="452.5" x2="993.5" y2="452.5" stroke="#0000e0" stroke-width="9.2"/>
<line x1="993.5" y1="452.5" x2="1004.8" y2="452.5" stroke="#10e8e8" stroke-width="9.2"/>
<line x1="982.3" y1="451" x2="993.5" y2="451" stroke="#7070ff" stroke-width="0.9"/>
<line x1="993.5" y1="451" x2="1004.8" y2="451" stroke="#b0ffff" stroke-width="0.9"/>
<line x1="982.3" y1="454" x2="993.5" y2="454" stroke="#7070ff" stroke-width="0.9"/>
<line x1="993.5" y1="454" x2="1004.8" y2="454" stroke="#b0ffff" stroke-width="0.9"/>
<line x1="1004.8" y1="452.5" x2="1016.4" y2="452.5" stroke="#10e8e8" stroke-width="3.9"/>
<line x1="1016.4" y1="452.5" x2="1028" y2="452.5" stroke="#0000e0" stroke-width="3.9"/>
<line x1="1004.8" y1="452.5" x2="1016.4" y2="452.5" stroke="#b0ffff" stroke-width="0.8" stroke-opacity="0.7"/>
<line x1="1016.4" y1="452.5" x2="1028" y2="452.5" stroke="#7070ff" stroke-width="0.8" stroke-opacity="0.7"/>
<line x1="1028" y1="452.5" x2="1032.5" y2="444.7" stroke="#0000e0" stroke-width="3.9"/>
<line x1="1032.5" y1="444.7" x2="1037" y2="436.9" stroke="#c8c8c8" stroke-width="3.9"/>
<line x1="1028" y1="452.5" x2="1032.5" y2="444.7" stroke="#7070ff" stroke-width="0.8" stroke-opacity="0.7"/>
<line x1="1032.5" y1="444.7" x2="1037" y2="436.9" stroke="#f0f0f0" stroke-width="0.8" stroke-opacity="0.7"/>
<line x1="1028" y1="452.5" x2="1032.5" y2="460" stroke="#0000e0" stroke-width="3.9"/>
<line x1="1032.5" y1="460" x2="1037" y2="467.5" stroke="#c8c8c8" stroke-width="3.9"/>
<line x1="1028" y1="452.5" x2="1032.5" y2="460" stroke="#7070ff" stroke-width="0.8" stroke-opacity="0.7"/>
<line x1="1032.5" y1="460" x2="1037" y2="467.5" stroke="#f0f0f0" stroke-width="0.8" stroke-opacity="0.7"/>
<circle cx="982.3" cy="452.5" r="7.5" fill="url(#gN)"/>
<circle cx="1004.8" cy="452.5" r="7.7" fill="url(#gC)"/>
<circle cx="1028" cy="452.5" r="7.5" fill="url(#gN)"/>
<circle cx="1037" cy="436.9" r="5.4" fill="url(#gH)"/>
<circle cx="1037" cy="467.5" r="5.4" fill="url(#gH)"/>
<line x1="32.5" y1="559.7" x2="42.1" y2="559.7" stroke="#c8c8c8" stroke-width="3.9"/>
<line x1="42.1" y1="559.7" x2="51.7" y2="559.7" stroke="#0000e0" stroke-width="3.9"/>
<line x1="32.5" y1="559.7" x2="42.1" y2="559.7" stroke="#f0f0f0" stroke-width="0.8" stroke-opacity="0.7"/>
<line x1="42.1" y1="559.7" x2="51.7" y2="559.7" stroke="#7070ff" stroke-width="0.8" stroke-opacity="0.7"/>
<circle cx="32.5" cy="559.7" r="5.4" fill="url(#gH)"/>
<circle cx="51.7" cy="559.7" r="7.5" fill="url(#gN)"/>
<line x1="18" y1="588.2" x2="30.1" y2="589" stroke="#0000e0" stroke-width="6.6"/>
<line x1="30.1" y1="589" x2="42.1" y2="589.7" stroke="#10e8e8" stroke-width="6.6"/>
<line x1="18" y1="588.2" x2="30.1" y2="589" stroke="#7070ff" stroke-width="0.9"/>
<line x1="30.1" y1="589" x2="42.1" y2="589.7" stroke="#b0ffff" stroke-width="0.9"/>
<line x1="42.1" y1="589.7" x2="53.3" y2="589.7" stroke="#10e8e8" stroke-width="6.6"/>
<line x1="53.3" y1="589.7" x2="64.6" y2="589.7" stroke="#0000e0" stroke-width="6.6"/>
<line x1="42.1" y1="589.7" x2="53.3" y2="589.7" stroke="#b0ffff" stroke-width="0.9"/>
<line x1="53.3" y1="589.7" x2="64.6" y2="589.7" stroke="#7070ff" stroke-width="0.9"/>
<line x1="18" y1="588.2" x2="14.2" y2="596.5" stroke="#0000e0" stroke-width="3.9"/>
<line x1="14.2" y1="596.5" x2="10.5" y2="604.8" stroke="#c8c8c8" stroke-width="3.9"/>
<line x1="18" y1="588.2" x2="14.2" y2="596.5" stroke="#7070ff" stroke-width="0.8" stroke-opacity="0.7"/>
<line x1="14.2" y1="596.5" x2="10.5" y2="604.8" stroke="#f0f0f0" stroke-width="0.8" stroke-opacity="0.7"/>
<circle cx="18" cy="588.2" r="7.5" fill="url(#gN)"/>
<circle cx="42.1" cy="589.7" r="7.7" fill="url(#gC)"/>
<circle cx="64.6" cy="589.7" r="7.5" fill="url(#gN)"/>
<circle cx="10.5" cy="604.8" r="5.4" fill="url(#gH)"/>
<line x1="37.6" y1="710" x2="30.1" y2="715.2" stroke="#0000e0" stroke-width="3.9"/>
<line x1="30.1" y1="715.2" x2="22.5" y2="720.5" stroke="#c8c8c8" stroke-width="3.9"/>
<line x1="37.6" y1="710" x2="30.1" y2="715.2" stroke="#7070ff" stroke-width="0.8" stroke-opacity="0.7"/>
<line x1="30.1" y1="715.2" x2="22.5" y2="720.5" stroke="#f0f0f0" stroke-width="0.8" stroke-opacity="0.7"/>
<line x1="37.6" y1="710" x2="45.1" y2="715.2" stroke="#0000e0" stroke-width="3.9"/>
<line x1="45.1" y1="715.2" x2="52.6" y2="720.5" stroke="#c8c8c8" stroke-width="3.9"/>
<line x1="37.6" y1="710" x2="45.1" y2="715.2" stroke="#7070ff" stroke-width="0.8" stroke-opacity="0.7"/>
<line x1="45.1" y1="715.2" x2="52.6" y2="720.5" stroke="#f0f0f0" stroke-width="0.8" stroke-opacity="0.7"/>
<circle cx="37.6" cy="710" r="7.5" fill="url(#gN)"/>
<circle cx="22.5" cy="720.5" r="5.4" fill="url(#gH)"/>
<circle cx="52.6" cy="720.5" r="5.4" fill="url(#gH)"/>
<line x1="14.5" y1="745.6" x2="26.6" y2="745.6" stroke="#0000e0" stroke-width="6.6"/>
<line x1="26.6" y1="745.6" x2="38.6" y2="745.6" stroke="#10e8e8" stroke-width="6.6"/>
<line x1="14.5" y1="745.6" x2="26.6" y2="745.6" stroke="#7070ff" stroke-width="0.9"/>
<line x1="26.6" y1="745.6" x2="38.6" y2="745.6" stroke="#b0ffff" stroke-width="0.9"/>
<line x1="38.6" y1="745.6" x2="49" y2="745.6" stroke="#10e8e8" stroke-width="6.6"/>
<line x1="49" y1="745.6" x2="59.5" y2="745.6" stroke="#0000e0" stroke-width="6.6"/>
<line x1="38.6" y1="745.6" x2="49" y2="745.6" stroke="#b0ffff" stroke-width="0.9"/>
<line x1="49" y1="745.6" x2="59.5" y2="745.6" stroke="#7070ff" stroke-width="0.9"/>
<line x1="14.5" y1="745.6" x2="11.2" y2="753.7" stroke="#0000e0" stroke-width="3.9"/>
<line x1="11.2" y1="753.7" x2="8" y2="761.7" stroke="#c8c8c8" stroke-width="3.9"/>
<line x1="14.5" y1="745.6" x2="11.2" y2="753.7" stroke="#7070ff" stroke-width="0.8" stroke-opacity="0.7"/>
<line x1="11.2" y1="753.7" x2="8" y2="761.7" stroke="#f0f0f0" stroke-width="0.8" stroke-opacity="0.7"/>
<circle cx="14.5" cy="745.6" r="7.5" fill="url(#gN)"/>
<circle cx="38.6" cy="745.6" r="7.7" fill="url(#gC)"/>
<circle cx="59.5" cy="745.6" r="7.5" fill="url(#gN)"/>
<circle cx="8" cy="761.7" r="5.4" fill="url(#gH)"/>
<line x1="305.6" y1="555.6" x2="327.2" y2="545.8" stroke="#8c8cff" stroke-width="0.9"/>
<line x1="325.3" y1="533.5" x2="326.2" y2="539.6" stroke="#c8c8c8" stroke-width="3.9"/>
<line x1="326.2" y1="539.6" x2="327.2" y2="545.8" stroke="#0000e0" stroke-width="3.9"/>
<line x1="325.3" y1="533.5" x2="326.2" y2="539.6" stroke="#f0f0f0" stroke-width="0.8" stroke-opacity="0.7"/>
<line x1="326.2" y1="539.6" x2="327.2" y2="545.8" stroke="#7070ff" stroke-width="0.8" stroke-opacity="0.7"/>
<line x1="327.2" y1="545.8" x2="337.6" y2="553.5" stroke="#0000e0" stroke-width="6.6"/>
<line x1="337.6" y1="553.5" x2="348.1" y2="561.3" stroke="#10e8e8" stroke-width="6.6"/>
<line x1="327.2" y1="545.8" x2="337.6" y2="553.5" stroke="#7070ff" stroke-width="0.9"/>
<line x1="337.6" y1="553.5" x2="348.1" y2="561.3" stroke="#b0ffff" stroke-width="0.9"/>
<line x1="348.1" y1="561.3" x2="356.4" y2="567.6" stroke="#10e8e8" stroke-width="6.6"/>
<line x1="356.4" y1="567.6" x2="364.6" y2="574" stroke="#0000e0" stroke-width="6.6"/>
<line x1="348.1" y1="561.3" x2="356.4" y2="567.6" stroke="#b0ffff" stroke-width="0.9"/>
<line x1="356.4" y1="567.6" x2="364.6" y2="574" stroke="#7070ff" stroke-width="0.9"/>
<line x1="284.7" y1="566.7" x2="295.1" y2="561.2" stroke="#0000e0" stroke-width="3.9"/>
<line x1="295.1" y1="561.2" x2="305.6" y2="555.6" stroke="#c8c8c8" stroke-width="3.9"/>
<line x1="284.7" y1="566.7" x2="295.1" y2="561.2" stroke="#7070ff" stroke-width="0.8" stroke-opacity="0.7"/>
<line x1="295.1" y1="561.2" x2="305.6" y2="555.6" stroke="#f0f0f0" stroke-width="0.8" stroke-opacity="0.7"/>
<line x1="284.7" y1="566.7" x2="285.7" y2="572.2" stroke="#0000e0" stroke-width="3.9"/>
<line x1="285.7" y1="572.2" x2="286.7" y2="577.7" stroke="#c8c8c8" stroke-width="3.9"/>
<line x1="284.7" y1="566.7" x2="285.7" y2="572.2" stroke="#7070ff" stroke-width="0.8" stroke-opacity="0.7"/>
<line x1="285.7" y1="572.2" x2="286.7" y2="577.7" stroke="#f0f0f0" stroke-width="0.8" stroke-opacity="0.7"/>
<circle cx="325.3" cy="533.5" r="5.4" fill="url(#gH)"/>
<circle cx="327.2" cy="545.8" r="7.5" fill="url(#gN)"/>
<circle cx="305.6" cy="555.6" r="5.4" fill="url(#gH)"/>
<circle cx="284.7" cy="566.7" r="7.5" fill="url(#gN)"/>
<circle cx="286.7" cy="577.7" r="5.4" fill="url(#gH)"/>
<circle cx="348.1" cy="561.3" r="7.7" fill="url(#gC)"/>
<circle cx="364.6" cy="574" r="7.5" fill="url(#gN)"/>
<line x1="367" y1="683.4" x2="376.9" y2="685" stroke="#0000e0" stroke-width="3.9"/>
<line x1="376.9" y1="685" x2="386.7" y2="686.6" stroke="#c8c8c8" stroke-width="3.9"/>
<line x1="367" y1="683.4" x2="376.9" y2="685" stroke="#7070ff" stroke-width="0.8" stroke-opacity="0.7"/>
<line x1="376.9" y1="685" x2="386.7" y2="686.6" stroke="#f0f0f0" stroke-width="0.8" stroke-opacity="0.7"/>
<circle cx="367" cy="683.4" r="7.5" fill="url(#gN)"/>
<circle cx="386.7" cy="686.6" r="5.4" fill="url(#gH)"/>
<line x1="466.6" y1="679.2" x2="458" y2="685" stroke="#0000e0" stroke-width="6.6"/>
<line x1="458" y1="685" x2="449.4" y2="690.8" stroke="#10e8e8" stroke-width="6.6"/>
<line x1="466.6" y1="679.2" x2="458" y2="685" stroke="#7070ff" stroke-width="0.9"/>
<line x1="458" y1="685" x2="449.4" y2="690.8" stroke="#b0ffff" stroke-width="0.9"/>
<line x1="449.4" y1="690.8" x2="438.3" y2="696.5" stroke="#10e8e8" stroke-width="6.6"/>
<line x1="438.3" y1="696.5" x2="427.2" y2="702.3" stroke="#0000e0" stroke-width="6.6"/>
<line x1="449.4" y1="690.8" x2="438.3" y2="696.5" stroke="#b0ffff" stroke-width="0.9"/>
<line x1="438.3" y1="696.5" x2="427.2" y2="702.3" stroke="#7070ff" stroke-width="0.9"/>
<line x1="427.2" y1="702.3" x2="429.1" y2="710.6" stroke="#0000e0" stroke-width="3.9"/>
<line x1="429.1" y1="710.6" x2="431" y2="719" stroke="#c8c8c8" stroke-width="3.9"/>
<line x1="427.2" y1="702.3" x2="429.1" y2="710.6" stroke="#7070ff" stroke-width="0.8" stroke-opacity="0.7"/>
<line x1="429.1" y1="710.6" x2="431" y2="719" stroke="#f0f0f0" stroke-width="0.8" stroke-opacity="0.7"/>
<circle cx="466.6" cy="679.2" r="7.5" fill="url(#gN)"/>
<circle cx="449.4" cy="690.8" r="7.7" fill="url(#gC)"/>
<circle cx="427.2" cy="702.3" r="7.5" fill="url(#gN)"/>
<circle cx="431" cy="719" r="5.4" fill="url(#gH)"/>
<line x1="376.8" y1="743" x2="380.6" y2="749" stroke="#c8c8c8" stroke-width="3.9"/>
<line x1="380.6" y1="749" x2="384.3" y2="755" stroke="#0000e0" stroke-width="3.9"/>
<line x1="376.8" y1="743" x2="380.6" y2="749" stroke="#f0f0f0" stroke-width="0.8" stroke-opacity="0.7"/>
<line x1="380.6" y1="749" x2="384.3" y2="755" stroke="#7070ff" stroke-width="0.8" stroke-opacity="0.7"/>
<line x1="395.6" y1="741.9" x2="390" y2="748.5" stroke="#c8c8c8" stroke-width="3.9"/>
<line x1="390" y1="748.5" x2="384.3" y2="755" stroke="#0000e0" stroke-width="3.9"/>
<line x1="395.6" y1="741.9" x2="390" y2="748.5" stroke="#f0f0f0" stroke-width="0.8" stroke-opacity="0.7"/>
<line x1="390" y1="748.5" x2="384.3" y2="755" stroke="#7070ff" stroke-width="0.8" stroke-opacity="0.7"/>
<line x1="384.3" y1="755" x2="392.4" y2="762.9" stroke="#0000e0" stroke-width="3.9"/>
<line x1="392.4" y1="762.9" x2="400.5" y2="770.7" stroke="#0000e0" stroke-width="3.9"/>
<line x1="384.3" y1="755" x2="392.4" y2="762.9" stroke="#7070ff" stroke-width="0.8" stroke-opacity="0.7"/>
<line x1="392.4" y1="762.9" x2="400.5" y2="770.7" stroke="#7070ff" stroke-width="0.8" stroke-opacity="0.7"/>
<line x1="400.5" y1="770.7" x2="400.5" y2="778.8" stroke="#0000e0" stroke-width="3.9"/>
<line x1="400.5" y1="778.8" x2="400.5" y2="786.9" stroke="#c8c8c8" stroke-width="3.9"/>
<line x1="400.5" y1="770.7" x2="400.5" y2="778.8" stroke="#7070ff" stroke-width="0.8" stroke-opacity="0.7"/>
<line x1="400.5" y1="778.8" x2="400.5" y2="786.9" stroke="#f0f0f0" stroke-width="0.8" stroke-opacity="0.7"/>
<line x1="400.5" y1="770.7" x2="412.1" y2="765.7" stroke="#0000e0" stroke-width="3.9"/>
<line x1="412.1" y1="765.7" x2="423.7" y2="760.6" stroke="#10e8e8" stroke-width="3.9"/>
<line x1="400.5" y1="770.7" x2="412.1" y2="765.7" stroke="#7070ff" stroke-width="0.8" stroke-opacity="0.7"/>
<line x1="412.1" y1="765.7" x2="423.7" y2="760.6" stroke="#b0ffff" stroke-width="0.8" stroke-opacity="0.7"/>
<line x1="423.7" y1="760.6" x2="433.1" y2="758.2" stroke="#10e8e8" stroke-width="9.2"/>
<line x1="433.1" y1="758.2" x2="442.5" y2="755.7" stroke="#0000e0" stroke-width="9.2"/>
<line x1="423.3" y1="759.1" x2="432.7" y2="756.7" stroke="#b0ffff" stroke-width="0.9"/>
<line x1="432.7" y1="756.7" x2="442.1" y2="754.2" stroke="#7070ff" stroke-width="0.9"/>
<line x1="424.1" y1="762.1" x2="433.5" y2="759.6" stroke="#b0ffff" stroke-width="0.9"/>
<line x1="433.5" y1="759.6" x2="442.9" y2="757.2" stroke="#7070ff" stroke-width="0.9"/>
<circle cx="376.8" cy="743" r="5.4" fill="url(#gH)"/>
<circle cx="395.6" cy="741.9" r="5.4" fill="url(#gH)"/>
<circle cx="384.3" cy="755" r="7.5" fill="url(#gN)"/>
<circle cx="400.5" cy="770.7" r="7.5" fill="url(#gN)"/>
<circle cx="400.5" cy="786.9" r="5.4" fill="url(#gH)"/>
<circle cx="423.7" cy="760.6" r="7.7" fill="url(#gC)"/>
<circle cx="442.5" cy="755.7" r="7.5" fill="url(#gN)"/>
<line x1="690.6" y1="545.5" x2="695.8" y2="565.7" stroke="#8c8cff" stroke-width="0.9"/>
<line x1="695.8" y1="565.7" x2="715.3" y2="558.8" stroke="#8c8cff" stroke-width="0.9"/>
<line x1="688.8" y1="529.6" x2="689.7" y2="537.5" stroke="#c8c8c8" stroke-width="3.9"/>
<line x1="689.7" y1="537.5" x2="690.6" y2="545.5" stroke="#0000e0" stroke-width="3.9"/>
<line x1="688.8" y1="529.6" x2="689.7" y2="537.5" stroke="#f0f0f0" stroke-width="0.8" stroke-opacity="0.7"/>
<line x1="689.7" y1="537.5" x2="690.6" y2="545.5" stroke="#7070ff" stroke-width="0.8" stroke-opacity="0.7"/>
<line x1="690.6" y1="545.5" x2="703" y2="552.1" stroke="#0000e0" stroke-width="6.6"/>
<line x1="703" y1="552.1" x2="715.3" y2="558.8" stroke="#0000e0" stroke-width="6.6"/>
<line x1="690.6" y1="545.5" x2="703" y2="552.1" stroke="#7070ff" stroke-width="0.9"/>
<line x1="703" y1="552.1" x2="715.3" y2="558.8" stroke="#7070ff" stroke-width="0.9"/>
<line x1="715.3" y1="558.8" x2="722" y2="552.1" stroke="#0000e0" stroke-width="3.9"/>
<line x1="722" y1="552.1" x2="728.8" y2="545.5" stroke="#10e8e8" stroke-width="3.9"/>
<line x1="715.3" y1="558.8" x2="722" y2="552.1" stroke="#7070ff" stroke-width="0.8" stroke-opacity="0.7"/>
<line x1="722" y1="552.1" x2="728.8" y2="545.5" stroke="#b0ffff" stroke-width="0.8" stroke-opacity="0.7"/>
<line x1="728.8" y1="545.5" x2="733.8" y2="540.5" stroke="#10e8e8" stroke-width="9.2"/>
<line x1="733.8" y1="540.5" x2="738.7" y2="535.6" stroke="#0000e0" stroke-width="9.2"/>
<line x1="727.7" y1="544.4" x2="732.7" y2="539.5" stroke="#b0ffff" stroke-width="0.9"/>
<line x1="732.7" y1="539.5" x2="737.6" y2="534.5" stroke="#7070ff" stroke-width="0.9"/>
<line x1="729.9" y1="546.6" x2="734.8" y2="541.6" stroke="#b0ffff" stroke-width="0.9"/>
<line x1="734.8" y1="541.6" x2="739.8" y2="536.7" stroke="#7070ff" stroke-width="0.9"/>
<line x1="715.3" y1="558.8" x2="721.3" y2="562.7" stroke="#0000e0" stroke-width="3.9"/>
<line x1="721.3" y1="562.7" x2="727.3" y2="566.6" stroke="#c8c8c8" stroke-width="3.9"/>
<line x1="715.3" y1="558.8" x2="721.3" y2="562.7" stroke="#7070ff" stroke-width="0.8" stroke-opacity="0.7"/>
<line x1="721.3" y1="562.7" x2="727.3" y2="566.6" stroke="#f0f0f0" stroke-width="0.8" stroke-opacity="0.7"/>
<circle cx="688.8" cy="529.6" r="5.4" fill="url(#gH)"/>
<circle cx="690.6" cy="545.5" r="7.5" fill="url(#gN)"/>
<circle cx="715.3" cy="558.8" r="7.5" fill="url(#gN)"/>
<circle cx="728.8" cy="545.5" r="7.7" fill="url(#gC)"/>
<circle cx="738.7" cy="535.6" r="7.5" fill="url(#gN)"/>
<circle cx="695.8" cy="565.7" r="5.4" fill="url(#gH)"/>
<circle cx="727.3" cy="566.6" r="5.4" fill="url(#gH)"/>
<line x1="753.8" y1="680" x2="776.9" y2="684.4" stroke="#8c8cff" stroke-width="0.9"/>
<line x1="776.9" y1="684.4" x2="789" y2="686.7" stroke="#c8c8c8" stroke-width="3.9"/>
<line x1="789" y1="686.7" x2="801" y2="689" stroke="#0000e0" stroke-width="3.9"/>
<line x1="776.9" y1="684.4" x2="789" y2="686.7" stroke="#f0f0f0" stroke-width="0.8" stroke-opacity="0.7"/>
<line x1="789" y1="686.7" x2="801" y2="689" stroke="#7070ff" stroke-width="0.8" stroke-opacity="0.7"/>
<line x1="801" y1="689" x2="802" y2="697" stroke="#0000e0" stroke-width="3.9"/>
<line x1="802" y1="697" x2="803.1" y2="704.9" stroke="#c8c8c8" stroke-width="3.9"/>
<line x1="801" y1="689" x2="802" y2="697" stroke="#7070ff" stroke-width="0.8" stroke-opacity="0.7"/>
<line x1="802" y1="697" x2="803.1" y2="704.9" stroke="#f0f0f0" stroke-width="0.8" stroke-opacity="0.7"/>
<line x1="801" y1="689" x2="809.2" y2="681.9" stroke="#0000e0" stroke-width="3.9"/>
<line x1="809.2" y1="681.9" x2="817.5" y2="674.8" stroke="#10e8e8" stroke-width="3.9"/>
<line x1="801" y1="689" x2="809.2" y2="681.9" stroke="#7070ff" stroke-width="0.8" stroke-opacity="0.7"/>
<line x1="809.2" y1="681.9" x2="817.5" y2="674.8" stroke="#b0ffff" stroke-width="0.8" stroke-opacity="0.7"/>
<line x1="817.5" y1="674.8" x2="825" y2="668.3" stroke="#10e8e8" stroke-width="9.2"/>
<line x1="825" y1="668.3" x2="832.6" y2="661.9" stroke="#0000e0" stroke-width="9.2"/>
<line x1="816.5" y1="673.6" x2="824.1" y2="667.2" stroke="#b0ffff" stroke-width="0.9"/>
<line x1="824.1" y1="667.2" x2="831.6" y2="660.7" stroke="#7070ff" stroke-width="0.9"/>
<line x1="818.5" y1="676" x2="826" y2="669.5" stroke="#b0ffff" stroke-width="0.9"/>
<line x1="826" y1="669.5" x2="833.6" y2="663.1" stroke="#7070ff" stroke-width="0.9"/>
<circle cx="753.8" cy="680" r="7.5" fill="url(#gN)"/>
<circle cx="776.9" cy="684.4" r="5.4" fill="url(#gH)"/>
<circle cx="801" cy="689" r="7.5" fill="url(#gN)"/>
<circle cx="803.1" cy="704.9" r="5.4" fill="url(#gH)"/>
<circle cx="817.5" cy="674.8" r="7.7" fill="url(#gC)"/>
<circle cx="832.6" cy="661.9" r="7.5" fill="url(#gN)"/>
<line x1="1112.2" y1="551.6" x2="1115.7" y2="557.6" stroke="#c8c8c8" stroke-width="3.9"/>
<line x1="1115.7" y1="557.6" x2="1119.1" y2="563.6" stroke="#0000e0" stroke-width="3.9"/>
<line x1="1112.2" y1="551.6" x2="1115.7" y2="557.6" stroke="#f0f0f0" stroke-width="0.8" stroke-opacity="0.7"/>
<line x1="1115.7" y1="557.6" x2="1119.1" y2="563.6" stroke="#7070ff" stroke-width="0.8" stroke-opacity="0.7"/>
<circle cx="1112.2" cy="551.6" r="5.4" fill="url(#gH)"/>
<circle cx="1119.1" cy="563.6" r="7.5" fill="url(#gN)"/>
<line x1="1184.3" y1="543.1" x2="1177.2" y2="549.9" stroke="#0000e0" stroke-width="9.2"/>
<line x1="1177.2" y1="549.9" x2="1170.2" y2="556.7" stroke="#10e8e8" stroke-width="9.2"/>
<line x1="1185.4" y1="544.2" x2="1178.3" y2="551" stroke="#7070ff" stroke-width="0.9"/>
<line x1="1178.3" y1="551" x2="1171.3" y2="557.8" stroke="#b0ffff" stroke-width="0.9"/>
<line x1="1183.2" y1="542" x2="1176.2" y2="548.8" stroke="#7070ff" stroke-width="0.9"/>
<line x1="1176.2" y1="548.8" x2="1169.1" y2="555.6" stroke="#b0ffff" stroke-width="0.9"/>
<line x1="1170.2" y1="556.7" x2="1162" y2="563.2" stroke="#10e8e8" stroke-width="3.9"/>
<line x1="1162" y1="563.2" x2="1153.7" y2="569.6" stroke="#0000e0" stroke-width="3.9"/>
<line x1="1170.2" y1="556.7" x2="1162" y2="563.2" stroke="#b0ffff" stroke-width="0.8" stroke-opacity="0.7"/>
<line x1="1162" y1="563.2" x2="1153.7" y2="569.6" stroke="#7070ff" stroke-width="0.8" stroke-opacity="0.7"/>
<line x1="1153.7" y1="569.6" x2="1147.7" y2="573.2" stroke="#0000e0" stroke-width="3.9"/>
<line x1="1147.7" y1="573.2" x2="1141.6" y2="576.8" stroke="#c8c8c8" stroke-width="3.9"/>
<line x1="1153.7" y1="569.6" x2="1147.7" y2="573.2" stroke="#7070ff" stroke-width="0.8" stroke-opacity="0.7"/>
<line x1="1147.7" y1="573.2" x2="1141.6" y2="576.8" stroke="#f0f0f0" stroke-width="0.8" stroke-opacity="0.7"/>
<line x1="1153.7" y1="569.6" x2="1156.7" y2="575.6" stroke="#0000e0" stroke-width="3.9"/>
<line x1="1156.7" y1="575.6" x2="1159.7" y2="581.6" stroke="#c8c8c8" stroke-width="3.9"/>
<line x1="1153.7" y1="569.6" x2="1156.7" y2="575.6" stroke="#7070ff" stroke-width="0.8" stroke-opacity="0.7"/>
<line x1="1156.7" y1="575.6" x2="1159.7" y2="581.6" stroke="#f0f0f0" stroke-width="0.8" stroke-opacity="0.7"/>
<circle cx="1184.3" cy="543.1" r="7.5" fill="url(#gN)"/>
<circle cx="1170.2" cy="556.7" r="7.7" fill="url(#gC)"/>
<circle cx="1153.7" cy="569.6" r="7.5" fill="url(#gN)"/>
<circle cx="1141.6" cy="576.8" r="5.4" fill="url(#gH)"/>
<circle cx="1159.7" cy="581.6" r="5.4" fill="url(#gH)"/>
<circle cx="1096.5" cy="775.7" r="7.5" fill="url(#gN)"/>
<line x1="1184.8" y1="777.7" x2="1174.9" y2="784" stroke="#0000e0" stroke-width="9.2"/>
<line x1="1174.9" y1="784" x2="1165" y2="790.2" stroke="#10e8e8" stroke-width="9.2"/>
<line x1="1185.6" y1="779" x2="1175.7" y2="785.2" stroke="#7070ff" stroke-width="0.9"/>
<line x1="1175.7" y1="785.2" x2="1165.8" y2="791.5" stroke="#b0ffff" stroke-width="0.9"/>
<line x1="1184" y1="776.4" x2="1174.1" y2="782.7" stroke="#7070ff" stroke-width="0.9"/>
<line x1="1174.1" y1="782.7" x2="1164.2" y2="788.9" stroke="#b0ffff" stroke-width="0.9"/>
<line x1="1165" y1="790.2" x2="1154.8" y2="797.5" stroke="#10e8e8" stroke-width="3.9"/>
<line x1="1154.8" y1="797.5" x2="1144.6" y2="804.8" stroke="#0000e0" stroke-width="3.9"/>
<line x1="1165" y1="790.2" x2="1154.8" y2="797.5" stroke="#b0ffff" stroke-width="0.8" stroke-opacity="0.7"/>
<line x1="1154.8" y1="797.5" x2="1144.6" y2="804.8" stroke="#7070ff" stroke-width="0.8" stroke-opacity="0.7"/>
<line x1="1144.6" y1="804.8" x2="1136.5" y2="800" stroke="#0000e0" stroke-width="3.9"/>
<line x1="1136.5" y1="800" x2="1128.5" y2="795.2" stroke="#c8c8c8" stroke-width="3.9"/>
<line x1="1144.6" y1="804.8" x2="1136.5" y2="800" stroke="#7070ff" stroke-width="0.8" stroke-opacity="0.7"/>
<line x1="1136.5" y1="800" x2="1128.5" y2="795.2" stroke="#f0f0f0" stroke-width="0.8" stroke-opacity="0.7"/>
<line x1="1144.6" y1="804.8" x2="1143.8" y2="810.6" stroke="#0000e0" stroke-width="3.9"/>
<line x1="1143.8" y1="810.6" x2="1143.1" y2="816.5" stroke="#c8c8c8" stroke-width="3.9"/>
<line x1="1144.6" y1="804.8" x2="1143.8" y2="810.6" stroke="#7070ff" stroke-width="0.8" stroke-opacity="0.7"/>
<line x1="1143.8" y1="810.6" x2="1143.1" y2="816.5" stroke="#f0f0f0" stroke-width="0.8" stroke-opacity="0.7"/>
<circle cx="1184.8" cy="777.7" r="7.5" fill="url(#gN)"/>
<circle cx="1165" cy="790.2" r="7.7" fill="url(#gC)"/>
<circle cx="1144.6" cy="804.8" r="7.5" fill="url(#gN)"/>
<circle cx="1128.5" cy="795.2" r="5.4" fill="url(#gH)"/>
<circle cx="1143.1" cy="816.5" r="5.4" fill="url(#gH)"/>
</svg></body></html>
